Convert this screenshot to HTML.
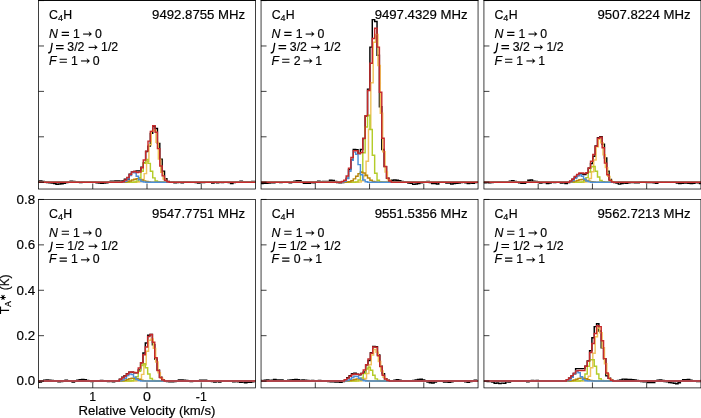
<!DOCTYPE html><html><head><meta charset="utf-8"><style>html,body{margin:0;padding:0;background:#fff;}svg{display:block;will-change:transform;}</style></head><body><svg width="701" height="418" viewBox="0 0 701 418"><clipPath id="c0"><rect x="38.50" y="0.57" width="217.00" height="188.45"/></clipPath>
<g clip-path="url(#c0)" fill="none" stroke-linejoin="miter">
<path d="M34.75,180.03 L37.10,180.03 L37.10,181.37 L39.46,181.37 L39.46,181.00 L41.82,181.00 L41.82,181.58 L44.18,181.58 L44.18,181.84 L46.54,181.84 L46.54,182.43 L48.90,182.43 L48.90,182.85 L51.26,182.85 L51.26,182.90 L53.62,182.90 L53.62,183.49 L55.98,183.49 L55.98,184.20 L58.34,184.20 L58.34,184.02 L60.70,184.02 L60.70,183.72 L63.06,183.72 L63.06,183.28 L65.42,183.28 L65.42,182.41 L67.78,182.41 L67.78,182.26 L70.14,182.26 L70.14,181.20 L72.50,181.20 L72.50,181.50 L74.86,181.50 L74.86,181.64 L77.22,181.64 L77.22,181.75 L79.58,181.75 L79.58,182.40 L81.94,182.40 L81.94,181.75 L84.29,181.75 L84.29,182.13 L86.65,182.13 L86.65,181.91 L89.01,181.91 L89.01,181.94 L91.37,181.94 L91.37,182.13 L93.73,182.13 L93.73,182.07 L96.09,182.07 L96.09,182.87 L98.45,182.87 L98.45,183.07 L100.81,183.07 L100.81,183.34 L103.17,183.34 L103.17,183.03 L105.53,183.03 L105.53,182.85 L107.89,182.85 L107.89,182.28 L110.25,182.28 L110.25,181.22 L112.61,181.22 L112.61,181.10 L114.97,181.10 L114.97,181.00 L117.33,181.00 L117.33,180.88 L119.69,180.88 L119.69,181.27 L122.05,181.27 L122.05,180.91 L124.41,180.91 L124.41,179.21 L126.77,179.21 L126.77,179.48 L129.13,179.48 L129.13,174.25 L131.49,174.25 L131.49,171.88 L133.84,171.88 L133.84,171.58 L136.20,171.58 L136.20,170.86 L138.56,170.86 L138.56,170.86 L140.92,170.86 L140.92,167.28 L143.28,167.28 L143.28,162.91 L145.64,162.91 L145.64,151.50 L148.00,151.50 L148.00,146.11 L150.36,146.11 L150.36,133.39 L152.72,133.39 L152.72,126.32 L155.08,126.32 L155.08,128.40 L157.44,128.40 L157.44,143.38 L159.80,143.38 L159.80,159.28 L162.16,159.28 L162.16,171.31 L164.52,171.31 L164.52,178.80 L166.88,178.80 L166.88,181.59 L169.24,181.59 L169.24,182.16 L171.60,182.16 L171.60,181.88 L173.96,181.88 L173.96,182.79 L176.32,182.79 L176.32,182.46 L178.68,182.46 L178.68,182.19 L181.03,182.19 L181.03,182.65 L183.39,182.65 L183.39,182.03 L185.75,182.03 L185.75,181.93 L188.11,181.93 L188.11,182.19 L190.47,182.19 L190.47,182.37 L192.83,182.37 L192.83,182.37 L195.19,182.37 L195.19,182.58 L197.55,182.58 L197.55,183.09 L199.91,183.09 L199.91,182.59 L202.27,182.59 L202.27,182.53 L204.63,182.53 L204.63,182.27 L206.99,182.27 L206.99,181.97 L209.35,181.97 L209.35,182.16 L211.71,182.16 L211.71,183.10 L214.07,183.10 L214.07,182.00 L216.43,182.00 L216.43,182.89 L218.79,182.89 L218.79,182.31 L221.15,182.31 L221.15,182.63 L223.51,182.63 L223.51,182.12 L225.87,182.12 L225.87,182.23 L228.23,182.23 L228.23,182.51 L230.58,182.51 L230.58,183.54 L232.94,183.54 L232.94,182.44 L235.30,182.44 L235.30,182.18 L237.66,182.18 L237.66,182.33 L240.02,182.33 L240.02,181.15 L242.38,181.15 L242.38,181.72 L244.74,181.72 L244.74,182.06 L247.10,182.06 L247.10,181.72 L249.46,181.72 L249.46,181.82 L251.82,181.82 L251.82,181.42 L254.18,181.42 L254.18,181.53 L256.54,181.53 L256.54,181.61 L258.90,181.61 L258.90,181.69 L261.26,181.69" stroke="#000000" stroke-width="1.45"/>
<path d="M35.65,182.21 L38.00,182.21 L38.00,182.21 L40.36,182.21 L40.36,182.21 L42.72,182.21 L42.72,182.21 L45.08,182.21 L45.08,182.21 L47.44,182.21 L47.44,182.21 L49.80,182.21 L49.80,182.21 L52.16,182.21 L52.16,182.21 L54.52,182.21 L54.52,182.21 L56.88,182.21 L56.88,182.21 L59.24,182.21 L59.24,182.21 L61.60,182.21 L61.60,182.21 L63.96,182.21 L63.96,182.21 L66.32,182.21 L66.32,182.21 L68.68,182.21 L68.68,182.21 L71.04,182.21 L71.04,182.21 L73.40,182.21 L73.40,182.21 L75.76,182.21 L75.76,182.21 L78.12,182.21 L78.12,182.21 L80.48,182.21 L80.48,182.21 L82.84,182.21 L82.84,182.21 L85.19,182.21 L85.19,182.21 L87.55,182.21 L87.55,182.21 L89.91,182.21 L89.91,182.21 L92.27,182.21 L92.27,182.21 L94.63,182.21 L94.63,182.21 L96.99,182.21 L96.99,182.21 L99.35,182.21 L99.35,182.21 L101.71,182.21 L101.71,182.21 L104.07,182.21 L104.07,182.21 L106.43,182.21 L106.43,182.21 L108.79,182.21 L108.79,182.21 L111.15,182.21 L111.15,182.21 L113.51,182.21 L113.51,182.21 L115.87,182.21 L115.87,182.21 L118.23,182.21 L118.23,182.21 L120.59,182.21 L120.59,182.21 L122.95,182.21 L122.95,182.21 L125.31,182.21 L125.31,182.21 L127.67,182.21 L127.67,182.21 L130.03,182.21 L130.03,182.21 L132.39,182.21 L132.39,182.21 L134.74,182.21 L134.74,182.19 L137.10,182.19 L137.10,182.10 L139.46,182.10 L139.46,181.58 L141.82,181.58 L141.82,179.52 L144.18,179.52 L144.18,173.61 L146.54,173.61 L146.54,161.51 L148.90,161.51 L148.90,144.78 L151.26,144.78 L151.26,131.32 L153.62,131.32 L153.62,130.20 L155.98,130.20 L155.98,142.26 L158.34,142.26 L158.34,159.14 L160.70,159.14 L160.70,172.20 L163.06,172.20 L163.06,178.94 L165.42,178.94 L165.42,181.41 L167.78,181.41 L167.78,182.06 L170.14,182.06 L170.14,182.19 L172.50,182.19 L172.50,182.21 L174.86,182.21 L174.86,182.21 L177.22,182.21 L177.22,182.21 L179.58,182.21 L179.58,182.21 L181.93,182.21 L181.93,182.21 L184.29,182.21 L184.29,182.21 L186.65,182.21 L186.65,182.21 L189.01,182.21 L189.01,182.21 L191.37,182.21 L191.37,182.21 L193.73,182.21 L193.73,182.21 L196.09,182.21 L196.09,182.21 L198.45,182.21 L198.45,182.21 L200.81,182.21 L200.81,182.21 L203.17,182.21 L203.17,182.21 L205.53,182.21 L205.53,182.21 L207.89,182.21 L207.89,182.21 L210.25,182.21 L210.25,182.21 L212.61,182.21 L212.61,182.21 L214.97,182.21 L214.97,182.21 L217.33,182.21 L217.33,182.21 L219.69,182.21 L219.69,182.21 L222.05,182.21 L222.05,182.21 L224.41,182.21 L224.41,182.21 L226.77,182.21 L226.77,182.21 L229.13,182.21 L229.13,182.21 L231.48,182.21 L231.48,182.21 L233.84,182.21 L233.84,182.21 L236.20,182.21 L236.20,182.21 L238.56,182.21 L238.56,182.21 L240.92,182.21 L240.92,182.21 L243.28,182.21 L243.28,182.21 L245.64,182.21 L245.64,182.21 L248.00,182.21 L248.00,182.21 L250.36,182.21 L250.36,182.21 L252.72,182.21 L252.72,182.21 L255.08,182.21 L255.08,182.21 L257.44,182.21 L257.44,182.21 L259.80,182.21 L259.80,182.21 L262.16,182.21" stroke="#efc35c" stroke-width="1.45"/>
<path d="M34.75,182.21 L37.10,182.21 L37.10,182.21 L39.46,182.21 L39.46,182.21 L41.82,182.21 L41.82,182.21 L44.18,182.21 L44.18,182.21 L46.54,182.21 L46.54,182.21 L48.90,182.21 L48.90,182.21 L51.26,182.21 L51.26,182.21 L53.62,182.21 L53.62,182.21 L55.98,182.21 L55.98,182.21 L58.34,182.21 L58.34,182.21 L60.70,182.21 L60.70,182.21 L63.06,182.21 L63.06,182.21 L65.42,182.21 L65.42,182.21 L67.78,182.21 L67.78,182.21 L70.14,182.21 L70.14,182.21 L72.50,182.21 L72.50,182.21 L74.86,182.21 L74.86,182.21 L77.22,182.21 L77.22,182.21 L79.58,182.21 L79.58,182.21 L81.94,182.21 L81.94,182.21 L84.29,182.21 L84.29,182.21 L86.65,182.21 L86.65,182.21 L89.01,182.21 L89.01,182.21 L91.37,182.21 L91.37,182.21 L93.73,182.21 L93.73,182.21 L96.09,182.21 L96.09,182.21 L98.45,182.21 L98.45,182.21 L100.81,182.21 L100.81,182.21 L103.17,182.21 L103.17,182.21 L105.53,182.21 L105.53,182.21 L107.89,182.21 L107.89,182.21 L110.25,182.21 L110.25,182.21 L112.61,182.21 L112.61,182.21 L114.97,182.21 L114.97,182.21 L117.33,182.21 L117.33,182.21 L119.69,182.21 L119.69,182.21 L122.05,182.21 L122.05,182.21 L124.41,182.21 L124.41,182.21 L126.77,182.21 L126.77,182.21 L129.13,182.21 L129.13,182.21 L131.49,182.21 L131.49,182.18 L133.84,182.18 L133.84,181.97 L136.20,181.97 L136.20,180.96 L138.56,180.96 L138.56,177.76 L140.92,177.76 L140.92,171.19 L143.28,171.19 L143.28,163.22 L145.64,163.22 L145.64,159.50 L148.00,159.50 L148.00,163.35 L150.36,163.35 L150.36,171.34 L152.72,171.34 L152.72,177.85 L155.08,177.85 L155.08,181.00 L157.44,181.00 L157.44,181.97 L159.80,181.97 L159.80,182.18 L162.16,182.18 L162.16,182.21 L164.52,182.21 L164.52,182.21 L166.88,182.21 L166.88,182.21 L169.24,182.21 L169.24,182.21 L171.60,182.21 L171.60,182.21 L173.96,182.21 L173.96,182.21 L176.32,182.21 L176.32,182.21 L178.68,182.21 L178.68,182.21 L181.03,182.21 L181.03,182.21 L183.39,182.21 L183.39,182.21 L185.75,182.21 L185.75,182.21 L188.11,182.21 L188.11,182.21 L190.47,182.21 L190.47,182.21 L192.83,182.21 L192.83,182.21 L195.19,182.21 L195.19,182.21 L197.55,182.21 L197.55,182.21 L199.91,182.21 L199.91,182.21 L202.27,182.21 L202.27,182.21 L204.63,182.21 L204.63,182.21 L206.99,182.21 L206.99,182.21 L209.35,182.21 L209.35,182.21 L211.71,182.21 L211.71,182.21 L214.07,182.21 L214.07,182.21 L216.43,182.21 L216.43,182.21 L218.79,182.21 L218.79,182.21 L221.15,182.21 L221.15,182.21 L223.51,182.21 L223.51,182.21 L225.87,182.21 L225.87,182.21 L228.23,182.21 L228.23,182.21 L230.58,182.21 L230.58,182.21 L232.94,182.21 L232.94,182.21 L235.30,182.21 L235.30,182.21 L237.66,182.21 L237.66,182.21 L240.02,182.21 L240.02,182.21 L242.38,182.21 L242.38,182.21 L244.74,182.21 L244.74,182.21 L247.10,182.21 L247.10,182.21 L249.46,182.21 L249.46,182.21 L251.82,182.21 L251.82,182.21 L254.18,182.21 L254.18,182.21 L256.54,182.21 L256.54,182.21 L258.90,182.21 L258.90,182.21 L261.26,182.21" stroke="#b4cc2a" stroke-width="1.45"/>
<path d="M34.75,182.21 L37.10,182.21 L37.10,182.21 L39.46,182.21 L39.46,182.21 L41.82,182.21 L41.82,182.21 L44.18,182.21 L44.18,182.21 L46.54,182.21 L46.54,182.21 L48.90,182.21 L48.90,182.21 L51.26,182.21 L51.26,182.21 L53.62,182.21 L53.62,182.21 L55.98,182.21 L55.98,182.21 L58.34,182.21 L58.34,182.21 L60.70,182.21 L60.70,182.21 L63.06,182.21 L63.06,182.21 L65.42,182.21 L65.42,182.21 L67.78,182.21 L67.78,182.21 L70.14,182.21 L70.14,182.21 L72.50,182.21 L72.50,182.21 L74.86,182.21 L74.86,182.21 L77.22,182.21 L77.22,182.21 L79.58,182.21 L79.58,182.21 L81.94,182.21 L81.94,182.21 L84.29,182.21 L84.29,182.21 L86.65,182.21 L86.65,182.21 L89.01,182.21 L89.01,182.21 L91.37,182.21 L91.37,182.21 L93.73,182.21 L93.73,182.21 L96.09,182.21 L96.09,182.21 L98.45,182.21 L98.45,182.21 L100.81,182.21 L100.81,182.21 L103.17,182.21 L103.17,182.21 L105.53,182.21 L105.53,182.21 L107.89,182.21 L107.89,182.21 L110.25,182.21 L110.25,182.21 L112.61,182.21 L112.61,182.21 L114.97,182.21 L114.97,182.21 L117.33,182.21 L117.33,182.21 L119.69,182.21 L119.69,182.19 L122.05,182.19 L122.05,182.14 L124.41,182.14 L124.41,181.99 L126.77,181.99 L126.77,181.62 L129.13,181.62 L129.13,180.95 L131.49,180.95 L131.49,180.04 L133.84,180.04 L133.84,179.18 L136.20,179.18 L136.20,178.80 L138.56,178.80 L138.56,179.12 L140.92,179.12 L140.92,179.94 L143.28,179.94 L143.28,180.87 L145.64,180.87 L145.64,181.57 L148.00,181.57 L148.00,181.96 L150.36,181.96 L150.36,182.13 L152.72,182.13 L152.72,182.19 L155.08,182.19 L155.08,182.20 L157.44,182.20 L157.44,182.21 L159.80,182.21 L159.80,182.21 L162.16,182.21 L162.16,182.21 L164.52,182.21 L164.52,182.21 L166.88,182.21 L166.88,182.21 L169.24,182.21 L169.24,182.21 L171.60,182.21 L171.60,182.21 L173.96,182.21 L173.96,182.21 L176.32,182.21 L176.32,182.21 L178.68,182.21 L178.68,182.21 L181.03,182.21 L181.03,182.21 L183.39,182.21 L183.39,182.21 L185.75,182.21 L185.75,182.21 L188.11,182.21 L188.11,182.21 L190.47,182.21 L190.47,182.21 L192.83,182.21 L192.83,182.21 L195.19,182.21 L195.19,182.21 L197.55,182.21 L197.55,182.21 L199.91,182.21 L199.91,182.21 L202.27,182.21 L202.27,182.21 L204.63,182.21 L204.63,182.21 L206.99,182.21 L206.99,182.21 L209.35,182.21 L209.35,182.21 L211.71,182.21 L211.71,182.21 L214.07,182.21 L214.07,182.21 L216.43,182.21 L216.43,182.21 L218.79,182.21 L218.79,182.21 L221.15,182.21 L221.15,182.21 L223.51,182.21 L223.51,182.21 L225.87,182.21 L225.87,182.21 L228.23,182.21 L228.23,182.21 L230.58,182.21 L230.58,182.21 L232.94,182.21 L232.94,182.21 L235.30,182.21 L235.30,182.21 L237.66,182.21 L237.66,182.21 L240.02,182.21 L240.02,182.21 L242.38,182.21 L242.38,182.21 L244.74,182.21 L244.74,182.21 L247.10,182.21 L247.10,182.21 L249.46,182.21 L249.46,182.21 L251.82,182.21 L251.82,182.21 L254.18,182.21 L254.18,182.21 L256.54,182.21 L256.54,182.21 L258.90,182.21 L258.90,182.21 L261.26,182.21" stroke="#b8860b" stroke-width="1.45"/>
<path d="M34.75,182.21 L37.10,182.21 L37.10,182.21 L39.46,182.21 L39.46,182.21 L41.82,182.21 L41.82,182.21 L44.18,182.21 L44.18,182.21 L46.54,182.21 L46.54,182.21 L48.90,182.21 L48.90,182.21 L51.26,182.21 L51.26,182.21 L53.62,182.21 L53.62,182.21 L55.98,182.21 L55.98,182.21 L58.34,182.21 L58.34,182.21 L60.70,182.21 L60.70,182.21 L63.06,182.21 L63.06,182.21 L65.42,182.21 L65.42,182.21 L67.78,182.21 L67.78,182.21 L70.14,182.21 L70.14,182.21 L72.50,182.21 L72.50,182.21 L74.86,182.21 L74.86,182.21 L77.22,182.21 L77.22,182.21 L79.58,182.21 L79.58,182.21 L81.94,182.21 L81.94,182.21 L84.29,182.21 L84.29,182.21 L86.65,182.21 L86.65,182.21 L89.01,182.21 L89.01,182.21 L91.37,182.21 L91.37,182.21 L93.73,182.21 L93.73,182.21 L96.09,182.21 L96.09,182.21 L98.45,182.21 L98.45,182.21 L100.81,182.21 L100.81,182.21 L103.17,182.21 L103.17,182.21 L105.53,182.21 L105.53,182.21 L107.89,182.21 L107.89,182.21 L110.25,182.21 L110.25,182.21 L112.61,182.21 L112.61,182.21 L114.97,182.21 L114.97,182.21 L117.33,182.21 L117.33,182.21 L119.69,182.21 L119.69,182.19 L122.05,182.19 L122.05,182.03 L124.41,182.03 L124.41,181.29 L126.77,181.29 L126.77,179.13 L129.13,179.13 L129.13,175.41 L131.49,175.41 L131.49,172.32 L133.84,172.32 L133.84,172.74 L136.20,172.74 L136.20,176.24 L138.56,176.24 L138.56,179.73 L140.92,179.73 L140.92,181.53 L143.28,181.53 L143.28,182.09 L145.64,182.09 L145.64,182.19 L148.00,182.19 L148.00,182.21 L150.36,182.21 L150.36,182.21 L152.72,182.21 L152.72,182.21 L155.08,182.21 L155.08,182.21 L157.44,182.21 L157.44,182.21 L159.80,182.21 L159.80,182.21 L162.16,182.21 L162.16,182.21 L164.52,182.21 L164.52,182.21 L166.88,182.21 L166.88,182.21 L169.24,182.21 L169.24,182.21 L171.60,182.21 L171.60,182.21 L173.96,182.21 L173.96,182.21 L176.32,182.21 L176.32,182.21 L178.68,182.21 L178.68,182.21 L181.03,182.21 L181.03,182.21 L183.39,182.21 L183.39,182.21 L185.75,182.21 L185.75,182.21 L188.11,182.21 L188.11,182.21 L190.47,182.21 L190.47,182.21 L192.83,182.21 L192.83,182.21 L195.19,182.21 L195.19,182.21 L197.55,182.21 L197.55,182.21 L199.91,182.21 L199.91,182.21 L202.27,182.21 L202.27,182.21 L204.63,182.21 L204.63,182.21 L206.99,182.21 L206.99,182.21 L209.35,182.21 L209.35,182.21 L211.71,182.21 L211.71,182.21 L214.07,182.21 L214.07,182.21 L216.43,182.21 L216.43,182.21 L218.79,182.21 L218.79,182.21 L221.15,182.21 L221.15,182.21 L223.51,182.21 L223.51,182.21 L225.87,182.21 L225.87,182.21 L228.23,182.21 L228.23,182.21 L230.58,182.21 L230.58,182.21 L232.94,182.21 L232.94,182.21 L235.30,182.21 L235.30,182.21 L237.66,182.21 L237.66,182.21 L240.02,182.21 L240.02,182.21 L242.38,182.21 L242.38,182.21 L244.74,182.21 L244.74,182.21 L247.10,182.21 L247.10,182.21 L249.46,182.21 L249.46,182.21 L251.82,182.21 L251.82,182.21 L254.18,182.21 L254.18,182.21 L256.54,182.21 L256.54,182.21 L258.90,182.21 L258.90,182.21 L261.26,182.21" stroke="#4b8fd8" stroke-width="1.45"/>
<path d="M34.75,182.21 L37.10,182.21 L37.10,182.21 L39.46,182.21 L39.46,182.21 L41.82,182.21 L41.82,182.21 L44.18,182.21 L44.18,182.21 L46.54,182.21 L46.54,182.21 L48.90,182.21 L48.90,182.21 L51.26,182.21 L51.26,182.21 L53.62,182.21 L53.62,182.21 L55.98,182.21 L55.98,182.21 L58.34,182.21 L58.34,182.21 L60.70,182.21 L60.70,182.21 L63.06,182.21 L63.06,182.21 L65.42,182.21 L65.42,182.21 L67.78,182.21 L67.78,182.21 L70.14,182.21 L70.14,182.21 L72.50,182.21 L72.50,182.21 L74.86,182.21 L74.86,182.21 L77.22,182.21 L77.22,182.21 L79.58,182.21 L79.58,182.21 L81.94,182.21 L81.94,182.21 L84.29,182.21 L84.29,182.21 L86.65,182.21 L86.65,182.21 L89.01,182.21 L89.01,182.21 L91.37,182.21 L91.37,182.21 L93.73,182.21 L93.73,182.21 L96.09,182.21 L96.09,182.21 L98.45,182.21 L98.45,182.21 L100.81,182.21 L100.81,182.21 L103.17,182.21 L103.17,182.21 L105.53,182.21 L105.53,182.21 L107.89,182.21 L107.89,182.21 L110.25,182.21 L110.25,182.21 L112.61,182.21 L112.61,182.21 L114.97,182.21 L114.97,182.21 L117.33,182.21 L117.33,182.21 L119.69,182.21 L119.69,182.21 L122.05,182.21 L122.05,181.75 L124.41,181.75 L124.41,179.94 L126.77,179.94 L126.77,177.44 L129.13,177.44 L129.13,174.49 L131.49,174.49 L131.49,171.99 L133.84,171.99 L133.84,171.54 L136.20,171.54 L136.20,172.45 L138.56,172.45 L138.56,171.99 L140.92,171.99 L140.92,167.68 L143.28,167.68 L143.28,159.96 L145.64,159.96 L145.64,151.10 L148.00,151.10 L148.00,141.11 L150.36,141.11 L150.36,131.35 L152.72,131.35 L152.72,125.67 L155.08,125.67 L155.08,132.26 L157.44,132.26 L157.44,148.61 L159.80,148.61 L159.80,166.09 L162.16,166.09 L162.16,175.85 L164.52,175.85 L164.52,180.17 L166.88,180.17 L166.88,181.75 L169.24,181.75 L169.24,182.21 L171.60,182.21 L171.60,182.21 L173.96,182.21 L173.96,182.21 L176.32,182.21 L176.32,182.21 L178.68,182.21 L178.68,182.21 L181.03,182.21 L181.03,182.21 L183.39,182.21 L183.39,182.21 L185.75,182.21 L185.75,182.21 L188.11,182.21 L188.11,182.21 L190.47,182.21 L190.47,182.21 L192.83,182.21 L192.83,182.21 L195.19,182.21 L195.19,182.21 L197.55,182.21 L197.55,182.21 L199.91,182.21 L199.91,182.21 L202.27,182.21 L202.27,182.21 L204.63,182.21 L204.63,182.21 L206.99,182.21 L206.99,182.21 L209.35,182.21 L209.35,182.21 L211.71,182.21 L211.71,182.21 L214.07,182.21 L214.07,182.21 L216.43,182.21 L216.43,182.21 L218.79,182.21 L218.79,182.21 L221.15,182.21 L221.15,182.21 L223.51,182.21 L223.51,182.21 L225.87,182.21 L225.87,182.21 L228.23,182.21 L228.23,182.21 L230.58,182.21 L230.58,182.21 L232.94,182.21 L232.94,182.21 L235.30,182.21 L235.30,182.21 L237.66,182.21 L237.66,182.21 L240.02,182.21 L240.02,182.21 L242.38,182.21 L242.38,182.21 L244.74,182.21 L244.74,182.21 L247.10,182.21 L247.10,182.21 L249.46,182.21 L249.46,182.21 L251.82,182.21 L251.82,182.21 L254.18,182.21 L254.18,182.21 L256.54,182.21 L256.54,182.21 L258.90,182.21 L258.90,182.21 L261.26,182.21" stroke="#c62a2c" stroke-width="1.45"/>
</g>
<rect x="38.50" y="0.57" width="217.00" height="188.45" fill="none" stroke="#000" stroke-width="0.75"/>
<rect x="38.15" y="0" width="217.70" height="1" fill="#080808"/>
<path d="M92.75,189.02 V183.52 M147.00,189.02 V183.52 M201.25,189.02 V183.52 M38.50,182.21 H44.00 M38.50,136.80 H44.00 M38.50,91.39 H44.00 M38.50,45.98 H44.00 M38.50,0.57 H44.00" stroke="#000" stroke-width="0.75" fill="none"/>
<g font-family="Liberation Sans, sans-serif" font-size="12.3" fill="#000" stroke="#000" stroke-width="0.18"><text x="49.10" y="18.77">C</text>
<text x="57.90" y="20.67" font-size="9">4</text>
<text x="63.20" y="18.77">H</text>
<text x="152.10" y="19.07" textLength="93" lengthAdjust="spacingAndGlyphs">9492.8755 MHz</text>
<text x="49.00" y="37.67" font-style="italic">N</text>
<path d="M61.70,32.37 h7.30 M61.70,35.37 h7.30" stroke="#000" stroke-width="1.1" fill="none"/>
<text x="73.10" y="37.67">1</text>
<path d="M83.10,34.07 H90.60" stroke="#000" stroke-width="1.1" fill="none"/><path d="M91.80,34.07 L88.80,31.57 L89.80,34.07 L88.80,36.57 Z" fill="#000"/>
<text x="94.90" y="37.67">0</text>
<path d="M52.25,42.87 L50.95,50.57 Q50.50,52.87 48.10,52.97" stroke="#000" stroke-width="1.3" fill="none"/>
<path d="M56.00,45.67 h7.60 M56.00,48.67 h7.60" stroke="#000" stroke-width="1.1" fill="none"/>
<text x="67.30" y="50.97">3/2</text>
<path d="M88.60,47.37 H96.30" stroke="#000" stroke-width="1.1" fill="none"/><path d="M97.50,47.37 L94.50,44.87 L95.50,47.37 L94.50,49.87 Z" fill="#000"/>
<text x="101.10" y="50.97">1/2</text>
<text x="49.00" y="64.57" font-style="italic">F</text>
<path d="M59.60,59.27 h7.30 M59.60,62.27 h7.30" stroke="#000" stroke-width="1.1" fill="none"/>
<text x="70.90" y="64.57">1</text>
<path d="M81.00,60.97 H88.60" stroke="#000" stroke-width="1.1" fill="none"/><path d="M89.80,60.97 L86.80,58.47 L87.80,60.97 L86.80,63.47 Z" fill="#000"/>
<text x="92.80" y="64.57">0</text></g>
<clipPath id="c1"><rect x="261.05" y="0.57" width="217.00" height="188.45"/></clipPath>
<g clip-path="url(#c1)" fill="none" stroke-linejoin="miter">
<path d="M255.90,181.79 L258.27,181.79 L258.27,183.32 L260.65,183.32 L260.65,183.56 L263.02,183.56 L263.02,183.39 L265.40,183.39 L265.40,183.30 L267.77,183.30 L267.77,182.99 L270.15,182.99 L270.15,182.71 L272.52,182.71 L272.52,182.67 L274.90,182.67 L274.90,182.10 L277.27,182.10 L277.27,182.32 L279.65,182.32 L279.65,182.64 L282.03,182.64 L282.03,182.10 L284.40,182.10 L284.40,181.66 L286.78,181.66 L286.78,182.32 L289.15,182.32 L289.15,182.66 L291.53,182.66 L291.53,181.99 L293.90,181.99 L293.90,181.31 L296.28,181.31 L296.28,180.71 L298.65,180.71 L298.65,180.82 L301.03,180.82 L301.03,182.26 L303.40,182.26 L303.40,183.25 L305.78,183.25 L305.78,183.37 L308.15,183.37 L308.15,183.31 L310.53,183.31 L310.53,182.55 L312.90,182.55 L312.90,182.65 L315.28,182.65 L315.28,181.98 L317.66,181.98 L317.66,181.16 L320.03,181.16 L320.03,181.66 L322.41,181.66 L322.41,181.40 L324.78,181.40 L324.78,181.51 L327.16,181.51 L327.16,181.36 L329.53,181.36 L329.53,180.23 L331.91,180.23 L331.91,180.55 L334.28,180.55 L334.28,181.45 L336.66,181.45 L336.66,182.64 L339.03,182.64 L339.03,182.81 L341.41,182.81 L341.41,182.43 L343.78,182.43 L343.78,180.64 L346.16,180.64 L346.16,178.35 L348.53,178.35 L348.53,169.49 L350.91,169.49 L350.91,159.96 L353.29,159.96 L353.29,149.53 L355.66,149.53 L355.66,149.82 L358.04,149.82 L358.04,153.51 L360.41,153.51 L360.41,149.51 L362.79,149.51 L362.79,138.51 L365.16,138.51 L365.16,115.98 L367.54,115.98 L367.54,89.12 L369.91,89.12 L369.91,47.11 L372.29,47.11 L372.29,19.64 L374.66,19.64 L374.66,21.46 L377.04,21.46 L377.04,55.29 L379.41,55.29 L379.41,106.83 L381.79,106.83 L381.79,149.51 L384.16,149.51 L384.16,166.60 L386.54,166.60 L386.54,178.28 L388.92,178.28 L388.92,181.36 L391.29,181.36 L391.29,180.17 L393.67,180.17 L393.67,179.94 L396.04,179.94 L396.04,180.17 L398.42,180.17 L398.42,180.62 L400.79,180.62 L400.79,181.53 L403.17,181.53 L403.17,181.97 L405.54,181.97 L405.54,182.17 L407.92,182.17 L407.92,183.12 L410.29,183.12 L410.29,183.30 L412.67,183.30 L412.67,184.38 L415.04,184.38 L415.04,183.91 L417.42,183.91 L417.42,183.42 L419.79,183.42 L419.79,182.78 L422.17,182.78 L422.17,181.90 L424.55,181.90 L424.55,181.88 L426.92,181.88 L426.92,181.48 L429.30,181.48 L429.30,182.64 L431.67,182.64 L431.67,183.40 L434.05,183.40 L434.05,183.47 L436.42,183.47 L436.42,184.02 L438.80,184.02 L438.80,182.31 L441.17,182.31 L441.17,181.93 L443.55,181.93 L443.55,182.20 L445.92,182.20 L445.92,182.91 L448.30,182.91 L448.30,182.93 L450.67,182.93 L450.67,184.01 L453.05,184.01 L453.05,183.45 L455.42,183.45 L455.42,183.33 L457.80,183.33 L457.80,183.10 L460.17,183.10 L460.17,182.55 L462.55,182.55 L462.55,182.17 L464.93,182.17 L464.93,182.75 L467.30,182.75 L467.30,183.41 L469.68,183.41 L469.68,183.12 L472.05,183.12 L472.05,183.20 L474.43,183.20 L474.43,182.53 L476.80,182.53 L476.80,181.85 L479.18,181.85 L479.18,181.37 L481.55,181.37 L481.55,181.16 L483.93,181.16" stroke="#000000" stroke-width="1.45"/>
<path d="M256.80,182.21 L259.17,182.21 L259.17,182.21 L261.55,182.21 L261.55,182.21 L263.92,182.21 L263.92,182.21 L266.30,182.21 L266.30,182.21 L268.67,182.21 L268.67,182.21 L271.05,182.21 L271.05,182.21 L273.42,182.21 L273.42,182.21 L275.80,182.21 L275.80,182.21 L278.17,182.21 L278.17,182.21 L280.55,182.21 L280.55,182.21 L282.93,182.21 L282.93,182.21 L285.30,182.21 L285.30,182.21 L287.68,182.21 L287.68,182.21 L290.05,182.21 L290.05,182.21 L292.43,182.21 L292.43,182.21 L294.80,182.21 L294.80,182.21 L297.18,182.21 L297.18,182.21 L299.55,182.21 L299.55,182.21 L301.93,182.21 L301.93,182.21 L304.30,182.21 L304.30,182.21 L306.68,182.21 L306.68,182.21 L309.05,182.21 L309.05,182.21 L311.43,182.21 L311.43,182.21 L313.80,182.21 L313.80,182.21 L316.18,182.21 L316.18,182.21 L318.56,182.21 L318.56,182.21 L320.93,182.21 L320.93,182.21 L323.31,182.21 L323.31,182.21 L325.68,182.21 L325.68,182.21 L328.06,182.21 L328.06,182.21 L330.43,182.21 L330.43,182.21 L332.81,182.21 L332.81,182.21 L335.18,182.21 L335.18,182.21 L337.56,182.21 L337.56,182.21 L339.93,182.21 L339.93,182.21 L342.31,182.21 L342.31,182.21 L344.68,182.21 L344.68,182.21 L347.06,182.21 L347.06,182.21 L349.43,182.21 L349.43,182.21 L351.81,182.21 L351.81,182.21 L354.19,182.21 L354.19,182.21 L356.56,182.21 L356.56,182.18 L358.94,182.18 L358.94,181.97 L361.31,181.97 L361.31,180.81 L363.69,180.81 L363.69,175.93 L366.06,175.93 L366.06,161.16 L368.44,161.16 L368.44,129.34 L370.81,129.34 L370.81,82.77 L373.19,82.77 L373.19,42.16 L375.56,42.16 L375.56,34.51 L377.94,34.51 L377.94,65.56 L380.31,65.56 L380.31,113.23 L382.69,113.23 L382.69,151.66 L385.06,151.66 L385.06,172.08 L387.44,172.08 L387.44,179.69 L389.82,179.69 L389.82,181.74 L392.19,181.74 L392.19,182.14 L394.57,182.14 L394.57,182.20 L396.94,182.20 L396.94,182.21 L399.32,182.21 L399.32,182.21 L401.69,182.21 L401.69,182.21 L404.07,182.21 L404.07,182.21 L406.44,182.21 L406.44,182.21 L408.82,182.21 L408.82,182.21 L411.19,182.21 L411.19,182.21 L413.57,182.21 L413.57,182.21 L415.94,182.21 L415.94,182.21 L418.32,182.21 L418.32,182.21 L420.69,182.21 L420.69,182.21 L423.07,182.21 L423.07,182.21 L425.45,182.21 L425.45,182.21 L427.82,182.21 L427.82,182.21 L430.20,182.21 L430.20,182.21 L432.57,182.21 L432.57,182.21 L434.95,182.21 L434.95,182.21 L437.32,182.21 L437.32,182.21 L439.70,182.21 L439.70,182.21 L442.07,182.21 L442.07,182.21 L444.45,182.21 L444.45,182.21 L446.82,182.21 L446.82,182.21 L449.20,182.21 L449.20,182.21 L451.57,182.21 L451.57,182.21 L453.95,182.21 L453.95,182.21 L456.32,182.21 L456.32,182.21 L458.70,182.21 L458.70,182.21 L461.07,182.21 L461.07,182.21 L463.45,182.21 L463.45,182.21 L465.83,182.21 L465.83,182.21 L468.20,182.21 L468.20,182.21 L470.58,182.21 L470.58,182.21 L472.95,182.21 L472.95,182.21 L475.33,182.21 L475.33,182.21 L477.70,182.21 L477.70,182.21 L480.08,182.21 L480.08,182.21 L482.45,182.21 L482.45,182.21 L484.83,182.21" stroke="#efc35c" stroke-width="1.45"/>
<path d="M255.90,182.21 L258.27,182.21 L258.27,182.21 L260.65,182.21 L260.65,182.21 L263.02,182.21 L263.02,182.21 L265.40,182.21 L265.40,182.21 L267.77,182.21 L267.77,182.21 L270.15,182.21 L270.15,182.21 L272.52,182.21 L272.52,182.21 L274.90,182.21 L274.90,182.21 L277.27,182.21 L277.27,182.21 L279.65,182.21 L279.65,182.21 L282.03,182.21 L282.03,182.21 L284.40,182.21 L284.40,182.21 L286.78,182.21 L286.78,182.21 L289.15,182.21 L289.15,182.21 L291.53,182.21 L291.53,182.21 L293.90,182.21 L293.90,182.21 L296.28,182.21 L296.28,182.21 L298.65,182.21 L298.65,182.21 L301.03,182.21 L301.03,182.21 L303.40,182.21 L303.40,182.21 L305.78,182.21 L305.78,182.21 L308.15,182.21 L308.15,182.21 L310.53,182.21 L310.53,182.21 L312.90,182.21 L312.90,182.21 L315.28,182.21 L315.28,182.21 L317.66,182.21 L317.66,182.21 L320.03,182.21 L320.03,182.21 L322.41,182.21 L322.41,182.21 L324.78,182.21 L324.78,182.21 L327.16,182.21 L327.16,182.21 L329.53,182.21 L329.53,182.21 L331.91,182.21 L331.91,182.21 L334.28,182.21 L334.28,182.21 L336.66,182.21 L336.66,182.21 L339.03,182.21 L339.03,182.21 L341.41,182.21 L341.41,182.21 L343.78,182.21 L343.78,182.21 L346.16,182.21 L346.16,182.21 L348.53,182.21 L348.53,182.21 L350.91,182.21 L350.91,182.21 L353.29,182.21 L353.29,182.18 L355.66,182.18 L355.66,181.87 L358.04,181.87 L358.04,179.91 L360.41,179.91 L360.41,172.00 L362.79,172.00 L362.79,152.74 L365.16,152.74 L365.16,127.06 L367.54,127.06 L367.54,115.27 L369.91,115.27 L369.91,129.51 L372.29,129.51 L372.29,155.31 L374.66,155.31 L374.66,173.30 L377.04,173.30 L377.04,180.30 L379.41,180.30 L379.41,181.94 L381.79,181.94 L381.79,182.18 L384.16,182.18 L384.16,182.21 L386.54,182.21 L386.54,182.21 L388.92,182.21 L388.92,182.21 L391.29,182.21 L391.29,182.21 L393.67,182.21 L393.67,182.21 L396.04,182.21 L396.04,182.21 L398.42,182.21 L398.42,182.21 L400.79,182.21 L400.79,182.21 L403.17,182.21 L403.17,182.21 L405.54,182.21 L405.54,182.21 L407.92,182.21 L407.92,182.21 L410.29,182.21 L410.29,182.21 L412.67,182.21 L412.67,182.21 L415.04,182.21 L415.04,182.21 L417.42,182.21 L417.42,182.21 L419.79,182.21 L419.79,182.21 L422.17,182.21 L422.17,182.21 L424.55,182.21 L424.55,182.21 L426.92,182.21 L426.92,182.21 L429.30,182.21 L429.30,182.21 L431.67,182.21 L431.67,182.21 L434.05,182.21 L434.05,182.21 L436.42,182.21 L436.42,182.21 L438.80,182.21 L438.80,182.21 L441.17,182.21 L441.17,182.21 L443.55,182.21 L443.55,182.21 L445.92,182.21 L445.92,182.21 L448.30,182.21 L448.30,182.21 L450.67,182.21 L450.67,182.21 L453.05,182.21 L453.05,182.21 L455.42,182.21 L455.42,182.21 L457.80,182.21 L457.80,182.21 L460.17,182.21 L460.17,182.21 L462.55,182.21 L462.55,182.21 L464.93,182.21 L464.93,182.21 L467.30,182.21 L467.30,182.21 L469.68,182.21 L469.68,182.21 L472.05,182.21 L472.05,182.21 L474.43,182.21 L474.43,182.21 L476.80,182.21 L476.80,182.21 L479.18,182.21 L479.18,182.21 L481.55,182.21 L481.55,182.21 L483.93,182.21" stroke="#b4cc2a" stroke-width="1.45"/>
<path d="M255.90,182.21 L258.27,182.21 L258.27,182.21 L260.65,182.21 L260.65,182.21 L263.02,182.21 L263.02,182.21 L265.40,182.21 L265.40,182.21 L267.77,182.21 L267.77,182.21 L270.15,182.21 L270.15,182.21 L272.52,182.21 L272.52,182.21 L274.90,182.21 L274.90,182.21 L277.27,182.21 L277.27,182.21 L279.65,182.21 L279.65,182.21 L282.03,182.21 L282.03,182.21 L284.40,182.21 L284.40,182.21 L286.78,182.21 L286.78,182.21 L289.15,182.21 L289.15,182.21 L291.53,182.21 L291.53,182.21 L293.90,182.21 L293.90,182.21 L296.28,182.21 L296.28,182.21 L298.65,182.21 L298.65,182.21 L301.03,182.21 L301.03,182.21 L303.40,182.21 L303.40,182.21 L305.78,182.21 L305.78,182.21 L308.15,182.21 L308.15,182.21 L310.53,182.21 L310.53,182.21 L312.90,182.21 L312.90,182.21 L315.28,182.21 L315.28,182.21 L317.66,182.21 L317.66,182.21 L320.03,182.21 L320.03,182.21 L322.41,182.21 L322.41,182.21 L324.78,182.21 L324.78,182.21 L327.16,182.21 L327.16,182.21 L329.53,182.21 L329.53,182.21 L331.91,182.21 L331.91,182.21 L334.28,182.21 L334.28,182.21 L336.66,182.21 L336.66,182.21 L339.03,182.21 L339.03,182.21 L341.41,182.21 L341.41,182.20 L343.78,182.20 L343.78,182.17 L346.16,182.17 L346.16,182.05 L348.53,182.05 L348.53,181.66 L350.91,181.66 L350.91,180.70 L353.29,180.70 L353.29,178.85 L355.66,178.85 L355.66,176.22 L358.04,176.22 L358.04,173.60 L360.41,173.60 L360.41,172.25 L362.79,172.25 L362.79,172.94 L365.16,172.94 L365.16,175.27 L367.54,175.27 L367.54,178.03 L369.91,178.03 L369.91,180.18 L372.29,180.18 L372.29,181.42 L374.66,181.42 L374.66,181.96 L377.04,181.96 L377.04,182.15 L379.41,182.15 L379.41,182.20 L381.79,182.20 L381.79,182.21 L384.16,182.21 L384.16,182.21 L386.54,182.21 L386.54,182.21 L388.92,182.21 L388.92,182.21 L391.29,182.21 L391.29,182.21 L393.67,182.21 L393.67,182.21 L396.04,182.21 L396.04,182.21 L398.42,182.21 L398.42,182.21 L400.79,182.21 L400.79,182.21 L403.17,182.21 L403.17,182.21 L405.54,182.21 L405.54,182.21 L407.92,182.21 L407.92,182.21 L410.29,182.21 L410.29,182.21 L412.67,182.21 L412.67,182.21 L415.04,182.21 L415.04,182.21 L417.42,182.21 L417.42,182.21 L419.79,182.21 L419.79,182.21 L422.17,182.21 L422.17,182.21 L424.55,182.21 L424.55,182.21 L426.92,182.21 L426.92,182.21 L429.30,182.21 L429.30,182.21 L431.67,182.21 L431.67,182.21 L434.05,182.21 L434.05,182.21 L436.42,182.21 L436.42,182.21 L438.80,182.21 L438.80,182.21 L441.17,182.21 L441.17,182.21 L443.55,182.21 L443.55,182.21 L445.92,182.21 L445.92,182.21 L448.30,182.21 L448.30,182.21 L450.67,182.21 L450.67,182.21 L453.05,182.21 L453.05,182.21 L455.42,182.21 L455.42,182.21 L457.80,182.21 L457.80,182.21 L460.17,182.21 L460.17,182.21 L462.55,182.21 L462.55,182.21 L464.93,182.21 L464.93,182.21 L467.30,182.21 L467.30,182.21 L469.68,182.21 L469.68,182.21 L472.05,182.21 L472.05,182.21 L474.43,182.21 L474.43,182.21 L476.80,182.21 L476.80,182.21 L479.18,182.21 L479.18,182.21 L481.55,182.21 L481.55,182.21 L483.93,182.21" stroke="#b8860b" stroke-width="1.45"/>
<path d="M255.90,182.21 L258.27,182.21 L258.27,182.21 L260.65,182.21 L260.65,182.21 L263.02,182.21 L263.02,182.21 L265.40,182.21 L265.40,182.21 L267.77,182.21 L267.77,182.21 L270.15,182.21 L270.15,182.21 L272.52,182.21 L272.52,182.21 L274.90,182.21 L274.90,182.21 L277.27,182.21 L277.27,182.21 L279.65,182.21 L279.65,182.21 L282.03,182.21 L282.03,182.21 L284.40,182.21 L284.40,182.21 L286.78,182.21 L286.78,182.21 L289.15,182.21 L289.15,182.21 L291.53,182.21 L291.53,182.21 L293.90,182.21 L293.90,182.21 L296.28,182.21 L296.28,182.21 L298.65,182.21 L298.65,182.21 L301.03,182.21 L301.03,182.21 L303.40,182.21 L303.40,182.21 L305.78,182.21 L305.78,182.21 L308.15,182.21 L308.15,182.21 L310.53,182.21 L310.53,182.21 L312.90,182.21 L312.90,182.21 L315.28,182.21 L315.28,182.21 L317.66,182.21 L317.66,182.21 L320.03,182.21 L320.03,182.21 L322.41,182.21 L322.41,182.21 L324.78,182.21 L324.78,182.21 L327.16,182.21 L327.16,182.21 L329.53,182.21 L329.53,182.21 L331.91,182.21 L331.91,182.21 L334.28,182.21 L334.28,182.21 L336.66,182.21 L336.66,182.21 L339.03,182.21 L339.03,182.19 L341.41,182.19 L341.41,182.08 L343.78,182.08 L343.78,181.35 L346.16,181.35 L346.16,178.50 L348.53,178.50 L348.53,171.23 L350.91,171.23 L350.91,160.16 L353.29,160.16 L353.29,152.11 L355.66,152.11 L355.66,154.28 L358.04,154.28 L358.04,164.60 L360.41,164.60 L360.41,174.66 L362.79,174.66 L362.79,180.01 L365.16,180.01 L365.16,181.77 L367.54,181.77 L367.54,182.15 L369.91,182.15 L369.91,182.20 L372.29,182.20 L372.29,182.21 L374.66,182.21 L374.66,182.21 L377.04,182.21 L377.04,182.21 L379.41,182.21 L379.41,182.21 L381.79,182.21 L381.79,182.21 L384.16,182.21 L384.16,182.21 L386.54,182.21 L386.54,182.21 L388.92,182.21 L388.92,182.21 L391.29,182.21 L391.29,182.21 L393.67,182.21 L393.67,182.21 L396.04,182.21 L396.04,182.21 L398.42,182.21 L398.42,182.21 L400.79,182.21 L400.79,182.21 L403.17,182.21 L403.17,182.21 L405.54,182.21 L405.54,182.21 L407.92,182.21 L407.92,182.21 L410.29,182.21 L410.29,182.21 L412.67,182.21 L412.67,182.21 L415.04,182.21 L415.04,182.21 L417.42,182.21 L417.42,182.21 L419.79,182.21 L419.79,182.21 L422.17,182.21 L422.17,182.21 L424.55,182.21 L424.55,182.21 L426.92,182.21 L426.92,182.21 L429.30,182.21 L429.30,182.21 L431.67,182.21 L431.67,182.21 L434.05,182.21 L434.05,182.21 L436.42,182.21 L436.42,182.21 L438.80,182.21 L438.80,182.21 L441.17,182.21 L441.17,182.21 L443.55,182.21 L443.55,182.21 L445.92,182.21 L445.92,182.21 L448.30,182.21 L448.30,182.21 L450.67,182.21 L450.67,182.21 L453.05,182.21 L453.05,182.21 L455.42,182.21 L455.42,182.21 L457.80,182.21 L457.80,182.21 L460.17,182.21 L460.17,182.21 L462.55,182.21 L462.55,182.21 L464.93,182.21 L464.93,182.21 L467.30,182.21 L467.30,182.21 L469.68,182.21 L469.68,182.21 L472.05,182.21 L472.05,182.21 L474.43,182.21 L474.43,182.21 L476.80,182.21 L476.80,182.21 L479.18,182.21 L479.18,182.21 L481.55,182.21 L481.55,182.21 L483.93,182.21" stroke="#4b8fd8" stroke-width="1.45"/>
<path d="M255.90,182.21 L258.27,182.21 L258.27,182.21 L260.65,182.21 L260.65,182.21 L263.02,182.21 L263.02,182.21 L265.40,182.21 L265.40,182.21 L267.77,182.21 L267.77,182.21 L270.15,182.21 L270.15,182.21 L272.52,182.21 L272.52,182.21 L274.90,182.21 L274.90,182.21 L277.27,182.21 L277.27,182.21 L279.65,182.21 L279.65,182.21 L282.03,182.21 L282.03,182.21 L284.40,182.21 L284.40,182.21 L286.78,182.21 L286.78,182.21 L289.15,182.21 L289.15,182.21 L291.53,182.21 L291.53,182.21 L293.90,182.21 L293.90,182.21 L296.28,182.21 L296.28,182.21 L298.65,182.21 L298.65,182.21 L301.03,182.21 L301.03,182.21 L303.40,182.21 L303.40,182.21 L305.78,182.21 L305.78,182.21 L308.15,182.21 L308.15,182.21 L310.53,182.21 L310.53,182.21 L312.90,182.21 L312.90,182.21 L315.28,182.21 L315.28,182.21 L317.66,182.21 L317.66,182.21 L320.03,182.21 L320.03,182.21 L322.41,182.21 L322.41,182.21 L324.78,182.21 L324.78,182.21 L327.16,182.21 L327.16,182.21 L329.53,182.21 L329.53,182.21 L331.91,182.21 L331.91,182.21 L334.28,182.21 L334.28,182.21 L336.66,182.21 L336.66,182.21 L339.03,182.21 L339.03,182.21 L341.41,182.21 L341.41,181.53 L343.78,181.53 L343.78,180.17 L346.16,180.17 L346.16,176.08 L348.53,176.08 L348.53,168.13 L350.91,168.13 L350.91,157.46 L353.29,157.46 L353.29,150.65 L355.66,150.65 L355.66,150.65 L358.04,150.65 L358.04,153.60 L360.41,153.60 L360.41,152.47 L362.79,152.47 L362.79,138.39 L365.16,138.39 L365.16,115.68 L367.54,115.68 L367.54,90.48 L369.91,90.48 L369.91,63.24 L372.29,63.24 L372.29,38.49 L374.66,38.49 L374.66,28.27 L377.04,28.27 L377.04,47.11 L379.41,47.11 L379.41,92.30 L381.79,92.30 L381.79,138.16 L384.16,138.16 L384.16,166.54 L386.54,166.54 L386.54,178.12 L388.92,178.12 L388.92,181.07 L391.29,181.07 L391.29,182.21 L393.67,182.21 L393.67,182.21 L396.04,182.21 L396.04,182.21 L398.42,182.21 L398.42,182.21 L400.79,182.21 L400.79,182.21 L403.17,182.21 L403.17,182.21 L405.54,182.21 L405.54,182.21 L407.92,182.21 L407.92,182.21 L410.29,182.21 L410.29,182.21 L412.67,182.21 L412.67,182.21 L415.04,182.21 L415.04,182.21 L417.42,182.21 L417.42,182.21 L419.79,182.21 L419.79,182.21 L422.17,182.21 L422.17,182.21 L424.55,182.21 L424.55,182.21 L426.92,182.21 L426.92,182.21 L429.30,182.21 L429.30,182.21 L431.67,182.21 L431.67,182.21 L434.05,182.21 L434.05,182.21 L436.42,182.21 L436.42,182.21 L438.80,182.21 L438.80,182.21 L441.17,182.21 L441.17,182.21 L443.55,182.21 L443.55,182.21 L445.92,182.21 L445.92,182.21 L448.30,182.21 L448.30,182.21 L450.67,182.21 L450.67,182.21 L453.05,182.21 L453.05,182.21 L455.42,182.21 L455.42,182.21 L457.80,182.21 L457.80,182.21 L460.17,182.21 L460.17,182.21 L462.55,182.21 L462.55,182.21 L464.93,182.21 L464.93,182.21 L467.30,182.21 L467.30,182.21 L469.68,182.21 L469.68,182.21 L472.05,182.21 L472.05,182.21 L474.43,182.21 L474.43,182.21 L476.80,182.21 L476.80,182.21 L479.18,182.21 L479.18,182.21 L481.55,182.21 L481.55,182.21 L483.93,182.21" stroke="#c62a2c" stroke-width="1.45"/>
</g>
<rect x="261.05" y="0.57" width="217.00" height="188.45" fill="none" stroke="#000" stroke-width="0.75"/>
<rect x="260.70" y="0" width="217.70" height="1" fill="#080808"/>
<path d="M315.30,189.02 V183.52 M369.55,189.02 V183.52 M423.80,189.02 V183.52 M261.05,182.21 H266.55 M261.05,136.80 H266.55 M261.05,91.39 H266.55 M261.05,45.98 H266.55 M261.05,0.57 H266.55" stroke="#000" stroke-width="0.75" fill="none"/>
<g font-family="Liberation Sans, sans-serif" font-size="12.3" fill="#000" stroke="#000" stroke-width="0.18"><text x="271.65" y="18.77">C</text>
<text x="280.45" y="20.67" font-size="9">4</text>
<text x="285.75" y="18.77">H</text>
<text x="374.65" y="19.07" textLength="93" lengthAdjust="spacingAndGlyphs">9497.4329 MHz</text>
<text x="271.55" y="37.67" font-style="italic">N</text>
<path d="M284.25,32.37 h7.30 M284.25,35.37 h7.30" stroke="#000" stroke-width="1.1" fill="none"/>
<text x="295.65" y="37.67">1</text>
<path d="M305.65,34.07 H313.15" stroke="#000" stroke-width="1.1" fill="none"/><path d="M314.35,34.07 L311.35,31.57 L312.35,34.07 L311.35,36.57 Z" fill="#000"/>
<text x="317.45" y="37.67">0</text>
<path d="M274.80,42.87 L273.50,50.57 Q273.05,52.87 270.65,52.97" stroke="#000" stroke-width="1.3" fill="none"/>
<path d="M278.55,45.67 h7.60 M278.55,48.67 h7.60" stroke="#000" stroke-width="1.1" fill="none"/>
<text x="289.85" y="50.97">3/2</text>
<path d="M311.15,47.37 H318.85" stroke="#000" stroke-width="1.1" fill="none"/><path d="M320.05,47.37 L317.05,44.87 L318.05,47.37 L317.05,49.87 Z" fill="#000"/>
<text x="323.65" y="50.97">1/2</text>
<text x="271.55" y="64.57" font-style="italic">F</text>
<path d="M282.15,59.27 h7.30 M282.15,62.27 h7.30" stroke="#000" stroke-width="1.1" fill="none"/>
<text x="293.65" y="64.57">2</text>
<path d="M303.55,60.97 H311.15" stroke="#000" stroke-width="1.1" fill="none"/><path d="M312.35,60.97 L309.35,58.47 L310.35,60.97 L309.35,63.47 Z" fill="#000"/>
<text x="315.35" y="64.57">1</text></g>
<clipPath id="c2"><rect x="483.93" y="0.57" width="217.00" height="188.45"/></clipPath>
<g clip-path="url(#c2)" fill="none" stroke-linejoin="miter">
<path d="M479.17,181.58 L481.49,181.58 L481.49,182.46 L483.81,182.46 L483.81,182.78 L486.13,182.78 L486.13,182.47 L488.45,182.47 L488.45,182.83 L490.77,182.83 L490.77,182.45 L493.09,182.45 L493.09,181.86 L495.41,181.86 L495.41,182.00 L497.73,182.00 L497.73,181.63 L500.05,181.63 L500.05,181.62 L502.37,181.62 L502.37,181.96 L504.69,181.96 L504.69,182.05 L507.01,182.05 L507.01,181.63 L509.33,181.63 L509.33,181.28 L511.65,181.28 L511.65,180.81 L513.97,180.81 L513.97,181.44 L516.29,181.44 L516.29,182.36 L518.61,182.36 L518.61,182.79 L520.93,182.79 L520.93,183.26 L523.25,183.26 L523.25,183.17 L525.57,183.17 L525.57,181.75 L527.89,181.75 L527.89,180.25 L530.21,180.25 L530.21,180.03 L532.53,180.03 L532.53,181.25 L534.85,181.25 L534.85,181.37 L537.17,181.37 L537.17,181.92 L539.49,181.92 L539.49,182.91 L541.81,182.91 L541.81,182.47 L544.13,182.47 L544.13,182.43 L546.45,182.43 L546.45,183.40 L548.77,183.40 L548.77,183.06 L551.09,183.06 L551.09,182.30 L553.41,182.30 L553.41,182.42 L555.73,182.42 L555.73,182.39 L558.05,182.39 L558.05,182.37 L560.37,182.37 L560.37,183.11 L562.69,183.11 L562.69,182.75 L565.01,182.75 L565.01,183.40 L567.33,183.40 L567.33,182.63 L569.65,182.63 L569.65,181.45 L571.97,181.45 L571.97,179.37 L574.29,179.37 L574.29,177.27 L576.61,177.27 L576.61,175.40 L578.93,175.40 L578.93,173.68 L581.25,173.68 L581.25,173.97 L583.57,173.97 L583.57,174.42 L585.89,174.42 L585.89,173.35 L588.21,173.35 L588.21,168.28 L590.53,168.28 L590.53,163.59 L592.85,163.59 L592.85,156.33 L595.17,156.33 L595.17,145.86 L597.49,145.86 L597.49,137.63 L599.81,137.63 L599.81,136.84 L602.13,136.84 L602.13,144.29 L604.45,144.29 L604.45,157.91 L606.77,157.91 L606.77,171.31 L609.09,171.31 L609.09,179.48 L611.41,179.48 L611.41,182.09 L613.73,182.09 L613.73,182.49 L616.05,182.49 L616.05,183.04 L618.37,183.04 L618.37,184.14 L620.69,184.14 L620.69,183.54 L623.01,183.54 L623.01,183.06 L625.33,183.06 L625.33,183.26 L627.65,183.26 L627.65,182.81 L629.97,182.81 L629.97,182.40 L632.29,182.40 L632.29,182.64 L634.61,182.64 L634.61,182.71 L636.93,182.71 L636.93,182.86 L639.25,182.86 L639.25,182.02 L641.57,182.02 L641.57,181.75 L643.89,181.75 L643.89,181.78 L646.21,181.78 L646.21,182.62 L648.53,182.62 L648.53,182.48 L650.85,182.48 L650.85,182.64 L653.17,182.64 L653.17,182.81 L655.49,182.81 L655.49,183.18 L657.81,183.18 L657.81,182.38 L660.13,182.38 L660.13,181.85 L662.45,181.85 L662.45,182.15 L664.77,182.15 L664.77,181.88 L667.09,181.88 L667.09,182.14 L669.41,182.14 L669.41,182.38 L671.73,182.38 L671.73,182.28 L674.05,182.28 L674.05,182.30 L676.37,182.30 L676.37,183.00 L678.69,183.00 L678.69,183.41 L681.01,183.41 L681.01,183.24 L683.33,183.24 L683.33,183.08 L685.65,183.08 L685.65,182.92 L687.97,182.92 L687.97,183.29 L690.29,183.29 L690.29,183.47 L692.61,183.47 L692.61,183.30 L694.93,183.30 L694.93,182.45 L697.25,182.45 L697.25,182.81 L699.57,182.81 L699.57,183.51 L701.89,183.51 L701.89,182.71 L704.21,182.71 L704.21,182.92 L706.53,182.92" stroke="#000000" stroke-width="1.45"/>
<path d="M480.07,182.21 L482.39,182.21 L482.39,182.21 L484.71,182.21 L484.71,182.21 L487.03,182.21 L487.03,182.21 L489.35,182.21 L489.35,182.21 L491.67,182.21 L491.67,182.21 L493.99,182.21 L493.99,182.21 L496.31,182.21 L496.31,182.21 L498.63,182.21 L498.63,182.21 L500.95,182.21 L500.95,182.21 L503.27,182.21 L503.27,182.21 L505.59,182.21 L505.59,182.21 L507.91,182.21 L507.91,182.21 L510.23,182.21 L510.23,182.21 L512.55,182.21 L512.55,182.21 L514.87,182.21 L514.87,182.21 L517.19,182.21 L517.19,182.21 L519.51,182.21 L519.51,182.21 L521.83,182.21 L521.83,182.21 L524.15,182.21 L524.15,182.21 L526.47,182.21 L526.47,182.21 L528.79,182.21 L528.79,182.21 L531.11,182.21 L531.11,182.21 L533.43,182.21 L533.43,182.21 L535.75,182.21 L535.75,182.21 L538.07,182.21 L538.07,182.21 L540.39,182.21 L540.39,182.21 L542.71,182.21 L542.71,182.21 L545.03,182.21 L545.03,182.21 L547.35,182.21 L547.35,182.21 L549.67,182.21 L549.67,182.21 L551.99,182.21 L551.99,182.21 L554.31,182.21 L554.31,182.21 L556.63,182.21 L556.63,182.21 L558.95,182.21 L558.95,182.21 L561.27,182.21 L561.27,182.21 L563.59,182.21 L563.59,182.21 L565.91,182.21 L565.91,182.21 L568.23,182.21 L568.23,182.21 L570.55,182.21 L570.55,182.21 L572.87,182.21 L572.87,182.21 L575.19,182.21 L575.19,182.21 L577.51,182.21 L577.51,182.21 L579.83,182.21 L579.83,182.20 L582.15,182.20 L582.15,182.17 L584.47,182.17 L584.47,181.99 L586.79,181.99 L586.79,181.17 L589.11,181.17 L589.11,178.41 L591.43,178.41 L591.43,171.66 L593.75,171.66 L593.75,160.03 L596.07,160.03 L596.07,146.79 L598.39,146.79 L598.39,139.30 L600.71,139.30 L600.71,142.75 L603.03,142.75 L603.03,154.68 L605.35,154.68 L605.35,167.63 L607.67,167.63 L607.67,176.35 L609.99,176.35 L609.99,180.42 L612.31,180.42 L612.31,181.80 L614.63,181.80 L614.63,182.14 L616.95,182.14 L616.95,182.20 L619.27,182.20 L619.27,182.21 L621.59,182.21 L621.59,182.21 L623.91,182.21 L623.91,182.21 L626.23,182.21 L626.23,182.21 L628.55,182.21 L628.55,182.21 L630.87,182.21 L630.87,182.21 L633.19,182.21 L633.19,182.21 L635.51,182.21 L635.51,182.21 L637.83,182.21 L637.83,182.21 L640.15,182.21 L640.15,182.21 L642.47,182.21 L642.47,182.21 L644.79,182.21 L644.79,182.21 L647.11,182.21 L647.11,182.21 L649.43,182.21 L649.43,182.21 L651.75,182.21 L651.75,182.21 L654.07,182.21 L654.07,182.21 L656.39,182.21 L656.39,182.21 L658.71,182.21 L658.71,182.21 L661.03,182.21 L661.03,182.21 L663.35,182.21 L663.35,182.21 L665.67,182.21 L665.67,182.21 L667.99,182.21 L667.99,182.21 L670.31,182.21 L670.31,182.21 L672.63,182.21 L672.63,182.21 L674.95,182.21 L674.95,182.21 L677.27,182.21 L677.27,182.21 L679.59,182.21 L679.59,182.21 L681.91,182.21 L681.91,182.21 L684.23,182.21 L684.23,182.21 L686.55,182.21 L686.55,182.21 L688.87,182.21 L688.87,182.21 L691.19,182.21 L691.19,182.21 L693.51,182.21 L693.51,182.21 L695.83,182.21 L695.83,182.21 L698.15,182.21 L698.15,182.21 L700.47,182.21 L700.47,182.21 L702.79,182.21 L702.79,182.21 L705.11,182.21 L705.11,182.21 L707.43,182.21" stroke="#efc35c" stroke-width="1.45"/>
<path d="M479.17,182.21 L481.49,182.21 L481.49,182.21 L483.81,182.21 L483.81,182.21 L486.13,182.21 L486.13,182.21 L488.45,182.21 L488.45,182.21 L490.77,182.21 L490.77,182.21 L493.09,182.21 L493.09,182.21 L495.41,182.21 L495.41,182.21 L497.73,182.21 L497.73,182.21 L500.05,182.21 L500.05,182.21 L502.37,182.21 L502.37,182.21 L504.69,182.21 L504.69,182.21 L507.01,182.21 L507.01,182.21 L509.33,182.21 L509.33,182.21 L511.65,182.21 L511.65,182.21 L513.97,182.21 L513.97,182.21 L516.29,182.21 L516.29,182.21 L518.61,182.21 L518.61,182.21 L520.93,182.21 L520.93,182.21 L523.25,182.21 L523.25,182.21 L525.57,182.21 L525.57,182.21 L527.89,182.21 L527.89,182.21 L530.21,182.21 L530.21,182.21 L532.53,182.21 L532.53,182.21 L534.85,182.21 L534.85,182.21 L537.17,182.21 L537.17,182.21 L539.49,182.21 L539.49,182.21 L541.81,182.21 L541.81,182.21 L544.13,182.21 L544.13,182.21 L546.45,182.21 L546.45,182.21 L548.77,182.21 L548.77,182.21 L551.09,182.21 L551.09,182.21 L553.41,182.21 L553.41,182.21 L555.73,182.21 L555.73,182.21 L558.05,182.21 L558.05,182.21 L560.37,182.21 L560.37,182.21 L562.69,182.21 L562.69,182.21 L565.01,182.21 L565.01,182.21 L567.33,182.21 L567.33,182.21 L569.65,182.21 L569.65,182.21 L571.97,182.21 L571.97,182.21 L574.29,182.21 L574.29,182.21 L576.61,182.21 L576.61,182.20 L578.93,182.20 L578.93,182.17 L581.25,182.17 L581.25,181.91 L583.57,181.91 L583.57,180.80 L585.89,180.80 L585.89,177.61 L588.21,177.61 L588.21,172.02 L590.53,172.02 L590.53,166.84 L592.85,166.84 L592.85,166.44 L595.17,166.44 L595.17,171.21 L597.49,171.21 L597.49,176.99 L599.81,176.99 L599.81,180.52 L602.13,180.52 L602.13,181.84 L604.45,181.84 L604.45,182.15 L606.77,182.15 L606.77,182.20 L609.09,182.20 L609.09,182.21 L611.41,182.21 L611.41,182.21 L613.73,182.21 L613.73,182.21 L616.05,182.21 L616.05,182.21 L618.37,182.21 L618.37,182.21 L620.69,182.21 L620.69,182.21 L623.01,182.21 L623.01,182.21 L625.33,182.21 L625.33,182.21 L627.65,182.21 L627.65,182.21 L629.97,182.21 L629.97,182.21 L632.29,182.21 L632.29,182.21 L634.61,182.21 L634.61,182.21 L636.93,182.21 L636.93,182.21 L639.25,182.21 L639.25,182.21 L641.57,182.21 L641.57,182.21 L643.89,182.21 L643.89,182.21 L646.21,182.21 L646.21,182.21 L648.53,182.21 L648.53,182.21 L650.85,182.21 L650.85,182.21 L653.17,182.21 L653.17,182.21 L655.49,182.21 L655.49,182.21 L657.81,182.21 L657.81,182.21 L660.13,182.21 L660.13,182.21 L662.45,182.21 L662.45,182.21 L664.77,182.21 L664.77,182.21 L667.09,182.21 L667.09,182.21 L669.41,182.21 L669.41,182.21 L671.73,182.21 L671.73,182.21 L674.05,182.21 L674.05,182.21 L676.37,182.21 L676.37,182.21 L678.69,182.21 L678.69,182.21 L681.01,182.21 L681.01,182.21 L683.33,182.21 L683.33,182.21 L685.65,182.21 L685.65,182.21 L687.97,182.21 L687.97,182.21 L690.29,182.21 L690.29,182.21 L692.61,182.21 L692.61,182.21 L694.93,182.21 L694.93,182.21 L697.25,182.21 L697.25,182.21 L699.57,182.21 L699.57,182.21 L701.89,182.21 L701.89,182.21 L704.21,182.21 L704.21,182.21 L706.53,182.21" stroke="#b4cc2a" stroke-width="1.45"/>
<path d="M479.17,182.21 L481.49,182.21 L481.49,182.21 L483.81,182.21 L483.81,182.21 L486.13,182.21 L486.13,182.21 L488.45,182.21 L488.45,182.21 L490.77,182.21 L490.77,182.21 L493.09,182.21 L493.09,182.21 L495.41,182.21 L495.41,182.21 L497.73,182.21 L497.73,182.21 L500.05,182.21 L500.05,182.21 L502.37,182.21 L502.37,182.21 L504.69,182.21 L504.69,182.21 L507.01,182.21 L507.01,182.21 L509.33,182.21 L509.33,182.21 L511.65,182.21 L511.65,182.21 L513.97,182.21 L513.97,182.21 L516.29,182.21 L516.29,182.21 L518.61,182.21 L518.61,182.21 L520.93,182.21 L520.93,182.21 L523.25,182.21 L523.25,182.21 L525.57,182.21 L525.57,182.21 L527.89,182.21 L527.89,182.21 L530.21,182.21 L530.21,182.21 L532.53,182.21 L532.53,182.21 L534.85,182.21 L534.85,182.21 L537.17,182.21 L537.17,182.21 L539.49,182.21 L539.49,182.21 L541.81,182.21 L541.81,182.21 L544.13,182.21 L544.13,182.21 L546.45,182.21 L546.45,182.21 L548.77,182.21 L548.77,182.21 L551.09,182.21 L551.09,182.21 L553.41,182.21 L553.41,182.21 L555.73,182.21 L555.73,182.21 L558.05,182.21 L558.05,182.21 L560.37,182.21 L560.37,182.21 L562.69,182.21 L562.69,182.20 L565.01,182.20 L565.01,182.19 L567.33,182.19 L567.33,182.14 L569.65,182.14 L569.65,182.00 L571.97,182.00 L571.97,181.69 L574.29,181.69 L574.29,181.13 L576.61,181.13 L576.61,180.41 L578.93,180.41 L578.93,179.75 L581.25,179.75 L581.25,179.48 L583.57,179.48 L583.57,179.75 L585.89,179.75 L585.89,180.41 L588.21,180.41 L588.21,181.14 L590.53,181.14 L590.53,181.69 L592.85,181.69 L592.85,182.00 L595.17,182.00 L595.17,182.14 L597.49,182.14 L597.49,182.19 L599.81,182.19 L599.81,182.20 L602.13,182.20 L602.13,182.21 L604.45,182.21 L604.45,182.21 L606.77,182.21 L606.77,182.21 L609.09,182.21 L609.09,182.21 L611.41,182.21 L611.41,182.21 L613.73,182.21 L613.73,182.21 L616.05,182.21 L616.05,182.21 L618.37,182.21 L618.37,182.21 L620.69,182.21 L620.69,182.21 L623.01,182.21 L623.01,182.21 L625.33,182.21 L625.33,182.21 L627.65,182.21 L627.65,182.21 L629.97,182.21 L629.97,182.21 L632.29,182.21 L632.29,182.21 L634.61,182.21 L634.61,182.21 L636.93,182.21 L636.93,182.21 L639.25,182.21 L639.25,182.21 L641.57,182.21 L641.57,182.21 L643.89,182.21 L643.89,182.21 L646.21,182.21 L646.21,182.21 L648.53,182.21 L648.53,182.21 L650.85,182.21 L650.85,182.21 L653.17,182.21 L653.17,182.21 L655.49,182.21 L655.49,182.21 L657.81,182.21 L657.81,182.21 L660.13,182.21 L660.13,182.21 L662.45,182.21 L662.45,182.21 L664.77,182.21 L664.77,182.21 L667.09,182.21 L667.09,182.21 L669.41,182.21 L669.41,182.21 L671.73,182.21 L671.73,182.21 L674.05,182.21 L674.05,182.21 L676.37,182.21 L676.37,182.21 L678.69,182.21 L678.69,182.21 L681.01,182.21 L681.01,182.21 L683.33,182.21 L683.33,182.21 L685.65,182.21 L685.65,182.21 L687.97,182.21 L687.97,182.21 L690.29,182.21 L690.29,182.21 L692.61,182.21 L692.61,182.21 L694.93,182.21 L694.93,182.21 L697.25,182.21 L697.25,182.21 L699.57,182.21 L699.57,182.21 L701.89,182.21 L701.89,182.21 L704.21,182.21 L704.21,182.21 L706.53,182.21" stroke="#b8860b" stroke-width="1.45"/>
<path d="M479.17,182.21 L481.49,182.21 L481.49,182.21 L483.81,182.21 L483.81,182.21 L486.13,182.21 L486.13,182.21 L488.45,182.21 L488.45,182.21 L490.77,182.21 L490.77,182.21 L493.09,182.21 L493.09,182.21 L495.41,182.21 L495.41,182.21 L497.73,182.21 L497.73,182.21 L500.05,182.21 L500.05,182.21 L502.37,182.21 L502.37,182.21 L504.69,182.21 L504.69,182.21 L507.01,182.21 L507.01,182.21 L509.33,182.21 L509.33,182.21 L511.65,182.21 L511.65,182.21 L513.97,182.21 L513.97,182.21 L516.29,182.21 L516.29,182.21 L518.61,182.21 L518.61,182.21 L520.93,182.21 L520.93,182.21 L523.25,182.21 L523.25,182.21 L525.57,182.21 L525.57,182.21 L527.89,182.21 L527.89,182.21 L530.21,182.21 L530.21,182.21 L532.53,182.21 L532.53,182.21 L534.85,182.21 L534.85,182.21 L537.17,182.21 L537.17,182.21 L539.49,182.21 L539.49,182.21 L541.81,182.21 L541.81,182.21 L544.13,182.21 L544.13,182.21 L546.45,182.21 L546.45,182.21 L548.77,182.21 L548.77,182.21 L551.09,182.21 L551.09,182.21 L553.41,182.21 L553.41,182.21 L555.73,182.21 L555.73,182.21 L558.05,182.21 L558.05,182.21 L560.37,182.21 L560.37,182.21 L562.69,182.21 L562.69,182.21 L565.01,182.21 L565.01,182.20 L567.33,182.20 L567.33,182.11 L569.65,182.11 L569.65,181.74 L571.97,181.74 L571.97,180.58 L574.29,180.58 L574.29,178.29 L576.61,178.29 L576.61,175.71 L578.93,175.71 L578.93,174.74 L581.25,174.74 L581.25,176.27 L583.57,176.27 L583.57,178.94 L585.89,178.94 L585.89,180.97 L588.21,180.97 L588.21,181.88 L590.53,181.88 L590.53,182.15 L592.85,182.15 L592.85,182.20 L595.17,182.20 L595.17,182.21 L597.49,182.21 L597.49,182.21 L599.81,182.21 L599.81,182.21 L602.13,182.21 L602.13,182.21 L604.45,182.21 L604.45,182.21 L606.77,182.21 L606.77,182.21 L609.09,182.21 L609.09,182.21 L611.41,182.21 L611.41,182.21 L613.73,182.21 L613.73,182.21 L616.05,182.21 L616.05,182.21 L618.37,182.21 L618.37,182.21 L620.69,182.21 L620.69,182.21 L623.01,182.21 L623.01,182.21 L625.33,182.21 L625.33,182.21 L627.65,182.21 L627.65,182.21 L629.97,182.21 L629.97,182.21 L632.29,182.21 L632.29,182.21 L634.61,182.21 L634.61,182.21 L636.93,182.21 L636.93,182.21 L639.25,182.21 L639.25,182.21 L641.57,182.21 L641.57,182.21 L643.89,182.21 L643.89,182.21 L646.21,182.21 L646.21,182.21 L648.53,182.21 L648.53,182.21 L650.85,182.21 L650.85,182.21 L653.17,182.21 L653.17,182.21 L655.49,182.21 L655.49,182.21 L657.81,182.21 L657.81,182.21 L660.13,182.21 L660.13,182.21 L662.45,182.21 L662.45,182.21 L664.77,182.21 L664.77,182.21 L667.09,182.21 L667.09,182.21 L669.41,182.21 L669.41,182.21 L671.73,182.21 L671.73,182.21 L674.05,182.21 L674.05,182.21 L676.37,182.21 L676.37,182.21 L678.69,182.21 L678.69,182.21 L681.01,182.21 L681.01,182.21 L683.33,182.21 L683.33,182.21 L685.65,182.21 L685.65,182.21 L687.97,182.21 L687.97,182.21 L690.29,182.21 L690.29,182.21 L692.61,182.21 L692.61,182.21 L694.93,182.21 L694.93,182.21 L697.25,182.21 L697.25,182.21 L699.57,182.21 L699.57,182.21 L701.89,182.21 L701.89,182.21 L704.21,182.21 L704.21,182.21 L706.53,182.21" stroke="#4b8fd8" stroke-width="1.45"/>
<path d="M479.17,182.21 L481.49,182.21 L481.49,182.21 L483.81,182.21 L483.81,182.21 L486.13,182.21 L486.13,182.21 L488.45,182.21 L488.45,182.21 L490.77,182.21 L490.77,182.21 L493.09,182.21 L493.09,182.21 L495.41,182.21 L495.41,182.21 L497.73,182.21 L497.73,182.21 L500.05,182.21 L500.05,182.21 L502.37,182.21 L502.37,182.21 L504.69,182.21 L504.69,182.21 L507.01,182.21 L507.01,182.21 L509.33,182.21 L509.33,182.21 L511.65,182.21 L511.65,182.21 L513.97,182.21 L513.97,182.21 L516.29,182.21 L516.29,182.21 L518.61,182.21 L518.61,182.21 L520.93,182.21 L520.93,182.21 L523.25,182.21 L523.25,182.21 L525.57,182.21 L525.57,182.21 L527.89,182.21 L527.89,182.21 L530.21,182.21 L530.21,182.21 L532.53,182.21 L532.53,182.21 L534.85,182.21 L534.85,182.21 L537.17,182.21 L537.17,182.21 L539.49,182.21 L539.49,182.21 L541.81,182.21 L541.81,182.21 L544.13,182.21 L544.13,182.21 L546.45,182.21 L546.45,182.21 L548.77,182.21 L548.77,182.21 L551.09,182.21 L551.09,182.21 L553.41,182.21 L553.41,182.21 L555.73,182.21 L555.73,182.21 L558.05,182.21 L558.05,182.21 L560.37,182.21 L560.37,182.21 L562.69,182.21 L562.69,182.21 L565.01,182.21 L565.01,182.21 L567.33,182.21 L567.33,182.21 L569.65,182.21 L569.65,181.07 L571.97,181.07 L571.97,179.03 L574.29,179.03 L574.29,176.53 L576.61,176.53 L576.61,174.49 L578.93,174.49 L578.93,172.90 L581.25,172.90 L581.25,172.90 L583.57,172.90 L583.57,173.58 L585.89,173.58 L585.89,172.67 L588.21,172.67 L588.21,167.90 L590.53,167.90 L590.53,161.32 L592.85,161.32 L592.85,154.51 L595.17,154.51 L595.17,146.33 L597.49,146.33 L597.49,138.16 L599.81,138.16 L599.81,137.25 L602.13,137.25 L602.13,147.70 L604.45,147.70 L604.45,163.14 L606.77,163.14 L606.77,174.72 L609.09,174.72 L609.09,180.39 L611.41,180.39 L611.41,181.98 L613.73,181.98 L613.73,182.21 L616.05,182.21 L616.05,182.21 L618.37,182.21 L618.37,182.21 L620.69,182.21 L620.69,182.21 L623.01,182.21 L623.01,182.21 L625.33,182.21 L625.33,182.21 L627.65,182.21 L627.65,182.21 L629.97,182.21 L629.97,182.21 L632.29,182.21 L632.29,182.21 L634.61,182.21 L634.61,182.21 L636.93,182.21 L636.93,182.21 L639.25,182.21 L639.25,182.21 L641.57,182.21 L641.57,182.21 L643.89,182.21 L643.89,182.21 L646.21,182.21 L646.21,182.21 L648.53,182.21 L648.53,182.21 L650.85,182.21 L650.85,182.21 L653.17,182.21 L653.17,182.21 L655.49,182.21 L655.49,182.21 L657.81,182.21 L657.81,182.21 L660.13,182.21 L660.13,182.21 L662.45,182.21 L662.45,182.21 L664.77,182.21 L664.77,182.21 L667.09,182.21 L667.09,182.21 L669.41,182.21 L669.41,182.21 L671.73,182.21 L671.73,182.21 L674.05,182.21 L674.05,182.21 L676.37,182.21 L676.37,182.21 L678.69,182.21 L678.69,182.21 L681.01,182.21 L681.01,182.21 L683.33,182.21 L683.33,182.21 L685.65,182.21 L685.65,182.21 L687.97,182.21 L687.97,182.21 L690.29,182.21 L690.29,182.21 L692.61,182.21 L692.61,182.21 L694.93,182.21 L694.93,182.21 L697.25,182.21 L697.25,182.21 L699.57,182.21 L699.57,182.21 L701.89,182.21 L701.89,182.21 L704.21,182.21 L704.21,182.21 L706.53,182.21" stroke="#c62a2c" stroke-width="1.45"/>
</g>
<rect x="483.93" y="0.57" width="217.00" height="188.45" fill="none" stroke="#000" stroke-width="0.75"/>
<rect x="483.58" y="0" width="217.70" height="1" fill="#080808"/>
<path d="M538.18,189.02 V183.52 M592.43,189.02 V183.52 M646.68,189.02 V183.52 M483.93,182.21 H489.43 M483.93,136.80 H489.43 M483.93,91.39 H489.43 M483.93,45.98 H489.43 M483.93,0.57 H489.43" stroke="#000" stroke-width="0.75" fill="none"/>
<g font-family="Liberation Sans, sans-serif" font-size="12.3" fill="#000" stroke="#000" stroke-width="0.18"><text x="494.53" y="18.77">C</text>
<text x="503.33" y="20.67" font-size="9">4</text>
<text x="508.63" y="18.77">H</text>
<text x="597.53" y="19.07" textLength="93" lengthAdjust="spacingAndGlyphs">9507.8224 MHz</text>
<text x="494.43" y="37.67" font-style="italic">N</text>
<path d="M507.13,32.37 h7.30 M507.13,35.37 h7.30" stroke="#000" stroke-width="1.1" fill="none"/>
<text x="518.53" y="37.67">1</text>
<path d="M528.53,34.07 H536.03" stroke="#000" stroke-width="1.1" fill="none"/><path d="M537.23,34.07 L534.23,31.57 L535.23,34.07 L534.23,36.57 Z" fill="#000"/>
<text x="540.33" y="37.67">0</text>
<path d="M497.68,42.87 L496.38,50.57 Q495.93,52.87 493.53,52.97" stroke="#000" stroke-width="1.3" fill="none"/>
<path d="M501.43,45.67 h7.60 M501.43,48.67 h7.60" stroke="#000" stroke-width="1.1" fill="none"/>
<text x="512.73" y="50.97">3/2</text>
<path d="M534.03,47.37 H541.73" stroke="#000" stroke-width="1.1" fill="none"/><path d="M542.93,47.37 L539.93,44.87 L540.93,47.37 L539.93,49.87 Z" fill="#000"/>
<text x="546.53" y="50.97">1/2</text>
<text x="494.43" y="64.57" font-style="italic">F</text>
<path d="M505.03,59.27 h7.30 M505.03,62.27 h7.30" stroke="#000" stroke-width="1.1" fill="none"/>
<text x="516.33" y="64.57">1</text>
<path d="M526.43,60.97 H534.03" stroke="#000" stroke-width="1.1" fill="none"/><path d="M535.23,60.97 L532.23,58.47 L533.23,60.97 L532.23,63.47 Z" fill="#000"/>
<text x="538.23" y="64.57">1</text></g>
<clipPath id="c3"><rect x="38.50" y="199.45" width="217.00" height="188.45"/></clipPath>
<g clip-path="url(#c3)" fill="none" stroke-linejoin="miter">
<path d="M34.34,382.92 L36.70,382.92 L36.70,382.39 L39.06,382.39 L39.06,381.93 L41.42,381.93 L41.42,381.24 L43.78,381.24 L43.78,380.33 L46.15,380.33 L46.15,380.01 L48.51,380.01 L48.51,380.28 L50.87,380.28 L50.87,380.46 L53.23,380.46 L53.23,381.31 L55.59,381.31 L55.59,381.25 L57.95,381.25 L57.95,381.88 L60.31,381.88 L60.31,381.41 L62.67,381.41 L62.67,381.11 L65.04,381.11 L65.04,380.10 L67.40,380.10 L67.40,380.79 L69.76,380.79 L69.76,381.08 L72.12,381.08 L72.12,382.05 L74.48,382.05 L74.48,381.34 L76.84,381.34 L76.84,380.34 L79.20,380.34 L79.20,379.74 L81.56,379.74 L81.56,379.48 L83.93,379.48 L83.93,379.83 L86.29,379.83 L86.29,380.48 L88.65,380.48 L88.65,381.10 L91.01,381.10 L91.01,381.54 L93.37,381.54 L93.37,381.05 L95.73,381.05 L95.73,381.11 L98.09,381.11 L98.09,380.80 L100.45,380.80 L100.45,380.54 L102.82,380.54 L102.82,381.00 L105.18,381.00 L105.18,381.27 L107.54,381.27 L107.54,381.60 L109.90,381.60 L109.90,381.02 L112.26,381.02 L112.26,381.69 L114.62,381.69 L114.62,381.19 L116.98,381.19 L116.98,381.18 L119.34,381.18 L119.34,379.12 L121.70,379.12 L121.70,377.10 L124.07,377.10 L124.07,375.66 L126.43,375.66 L126.43,373.62 L128.79,373.62 L128.79,372.26 L131.15,372.26 L131.15,372.24 L133.51,372.24 L133.51,372.65 L135.87,372.65 L135.87,372.75 L138.23,372.75 L138.23,369.96 L140.59,369.96 L140.59,362.77 L142.96,362.77 L142.96,352.93 L145.32,352.93 L145.32,342.94 L147.68,342.94 L147.68,335.22 L150.04,335.22 L150.04,334.40 L152.40,334.40 L152.40,344.76 L154.76,344.76 L154.76,359.06 L157.12,359.06 L157.12,370.10 L159.48,370.10 L159.48,377.28 L161.85,377.28 L161.85,379.85 L164.21,379.85 L164.21,381.05 L166.57,381.05 L166.57,381.43 L168.93,381.43 L168.93,381.80 L171.29,381.80 L171.29,381.87 L173.65,381.87 L173.65,381.43 L176.01,381.43 L176.01,380.83 L178.37,380.83 L178.37,379.95 L180.74,379.95 L180.74,379.85 L183.10,379.85 L183.10,380.32 L185.46,380.32 L185.46,380.54 L187.82,380.54 L187.82,380.87 L190.18,380.87 L190.18,381.53 L192.54,381.53 L192.54,380.65 L194.90,380.65 L194.90,380.64 L197.26,380.64 L197.26,380.78 L199.63,380.78 L199.63,380.28 L201.99,380.28 L201.99,380.28 L204.35,380.28 L204.35,380.18 L206.71,380.18 L206.71,380.80 L209.07,380.80 L209.07,380.66 L211.43,380.66 L211.43,381.43 L213.79,381.43 L213.79,382.03 L216.15,382.03 L216.15,381.46 L218.52,381.46 L218.52,382.01 L220.88,382.01 L220.88,380.86 L223.24,380.86 L223.24,380.80 L225.60,380.80 L225.60,380.61 L227.96,380.61 L227.96,380.82 L230.32,380.82 L230.32,381.37 L232.68,381.37 L232.68,381.79 L235.04,381.79 L235.04,381.62 L237.41,381.62 L237.41,381.71 L239.77,381.71 L239.77,382.18 L242.13,382.18 L242.13,382.00 L244.49,382.00 L244.49,382.84 L246.85,382.84 L246.85,382.33 L249.21,382.33 L249.21,382.30 L251.57,382.30 L251.57,381.81 L253.93,381.81 L253.93,381.01 L256.29,381.01 L256.29,381.62 L258.66,381.62 L258.66,380.41 L261.02,380.41" stroke="#000000" stroke-width="1.45"/>
<path d="M35.24,381.09 L37.60,381.09 L37.60,381.09 L39.96,381.09 L39.96,381.09 L42.32,381.09 L42.32,381.09 L44.68,381.09 L44.68,381.09 L47.05,381.09 L47.05,381.09 L49.41,381.09 L49.41,381.09 L51.77,381.09 L51.77,381.09 L54.13,381.09 L54.13,381.09 L56.49,381.09 L56.49,381.09 L58.85,381.09 L58.85,381.09 L61.21,381.09 L61.21,381.09 L63.57,381.09 L63.57,381.09 L65.94,381.09 L65.94,381.09 L68.30,381.09 L68.30,381.09 L70.66,381.09 L70.66,381.09 L73.02,381.09 L73.02,381.09 L75.38,381.09 L75.38,381.09 L77.74,381.09 L77.74,381.09 L80.10,381.09 L80.10,381.09 L82.46,381.09 L82.46,381.09 L84.83,381.09 L84.83,381.09 L87.19,381.09 L87.19,381.09 L89.55,381.09 L89.55,381.09 L91.91,381.09 L91.91,381.09 L94.27,381.09 L94.27,381.09 L96.63,381.09 L96.63,381.09 L98.99,381.09 L98.99,381.09 L101.35,381.09 L101.35,381.09 L103.72,381.09 L103.72,381.09 L106.08,381.09 L106.08,381.09 L108.44,381.09 L108.44,381.09 L110.80,381.09 L110.80,381.09 L113.16,381.09 L113.16,381.09 L115.52,381.09 L115.52,381.09 L117.88,381.09 L117.88,381.09 L120.24,381.09 L120.24,381.09 L122.60,381.09 L122.60,381.09 L124.97,381.09 L124.97,381.09 L127.33,381.09 L127.33,381.09 L129.69,381.09 L129.69,381.09 L132.05,381.09 L132.05,381.08 L134.41,381.08 L134.41,381.00 L136.77,381.00 L136.77,380.61 L139.13,380.61 L139.13,379.02 L141.49,379.02 L141.49,374.39 L143.86,374.39 L143.86,364.80 L146.22,364.80 L146.22,351.31 L148.58,351.31 L148.58,340.19 L150.94,340.19 L150.94,338.88 L153.30,338.88 L153.30,348.35 L155.66,348.35 L155.66,362.02 L158.02,362.02 L158.02,372.74 L160.38,372.74 L160.38,378.34 L162.75,378.34 L162.75,380.41 L165.11,380.41 L165.11,380.96 L167.47,380.96 L167.47,381.07 L169.83,381.07 L169.83,381.09 L172.19,381.09 L172.19,381.09 L174.55,381.09 L174.55,381.09 L176.91,381.09 L176.91,381.09 L179.27,381.09 L179.27,381.09 L181.64,381.09 L181.64,381.09 L184.00,381.09 L184.00,381.09 L186.36,381.09 L186.36,381.09 L188.72,381.09 L188.72,381.09 L191.08,381.09 L191.08,381.09 L193.44,381.09 L193.44,381.09 L195.80,381.09 L195.80,381.09 L198.16,381.09 L198.16,381.09 L200.53,381.09 L200.53,381.09 L202.89,381.09 L202.89,381.09 L205.25,381.09 L205.25,381.09 L207.61,381.09 L207.61,381.09 L209.97,381.09 L209.97,381.09 L212.33,381.09 L212.33,381.09 L214.69,381.09 L214.69,381.09 L217.05,381.09 L217.05,381.09 L219.42,381.09 L219.42,381.09 L221.78,381.09 L221.78,381.09 L224.14,381.09 L224.14,381.09 L226.50,381.09 L226.50,381.09 L228.86,381.09 L228.86,381.09 L231.22,381.09 L231.22,381.09 L233.58,381.09 L233.58,381.09 L235.94,381.09 L235.94,381.09 L238.31,381.09 L238.31,381.09 L240.67,381.09 L240.67,381.09 L243.03,381.09 L243.03,381.09 L245.39,381.09 L245.39,381.09 L247.75,381.09 L247.75,381.09 L250.11,381.09 L250.11,381.09 L252.47,381.09 L252.47,381.09 L254.83,381.09 L254.83,381.09 L257.19,381.09 L257.19,381.09 L259.56,381.09 L259.56,381.09 L261.92,381.09" stroke="#efc35c" stroke-width="1.45"/>
<path d="M34.34,381.09 L36.70,381.09 L36.70,381.09 L39.06,381.09 L39.06,381.09 L41.42,381.09 L41.42,381.09 L43.78,381.09 L43.78,381.09 L46.15,381.09 L46.15,381.09 L48.51,381.09 L48.51,381.09 L50.87,381.09 L50.87,381.09 L53.23,381.09 L53.23,381.09 L55.59,381.09 L55.59,381.09 L57.95,381.09 L57.95,381.09 L60.31,381.09 L60.31,381.09 L62.67,381.09 L62.67,381.09 L65.04,381.09 L65.04,381.09 L67.40,381.09 L67.40,381.09 L69.76,381.09 L69.76,381.09 L72.12,381.09 L72.12,381.09 L74.48,381.09 L74.48,381.09 L76.84,381.09 L76.84,381.09 L79.20,381.09 L79.20,381.09 L81.56,381.09 L81.56,381.09 L83.93,381.09 L83.93,381.09 L86.29,381.09 L86.29,381.09 L88.65,381.09 L88.65,381.09 L91.01,381.09 L91.01,381.09 L93.37,381.09 L93.37,381.09 L95.73,381.09 L95.73,381.09 L98.09,381.09 L98.09,381.09 L100.45,381.09 L100.45,381.09 L102.82,381.09 L102.82,381.09 L105.18,381.09 L105.18,381.09 L107.54,381.09 L107.54,381.09 L109.90,381.09 L109.90,381.09 L112.26,381.09 L112.26,381.09 L114.62,381.09 L114.62,381.09 L116.98,381.09 L116.98,381.09 L119.34,381.09 L119.34,381.09 L121.70,381.09 L121.70,381.09 L124.07,381.09 L124.07,381.09 L126.43,381.09 L126.43,381.08 L128.79,381.08 L128.79,381.05 L131.15,381.05 L131.15,380.82 L133.51,380.82 L133.51,379.79 L135.87,379.79 L135.87,376.80 L138.23,376.80 L138.23,371.24 L140.59,371.24 L140.59,365.41 L142.96,365.41 L142.96,363.77 L145.32,363.77 L145.32,367.81 L147.68,367.81 L147.68,374.02 L150.04,374.02 L150.04,378.48 L152.40,378.48 L152.40,380.42 L154.76,380.42 L154.76,380.97 L157.12,380.97 L157.12,381.07 L159.48,381.07 L159.48,381.09 L161.85,381.09 L161.85,381.09 L164.21,381.09 L164.21,381.09 L166.57,381.09 L166.57,381.09 L168.93,381.09 L168.93,381.09 L171.29,381.09 L171.29,381.09 L173.65,381.09 L173.65,381.09 L176.01,381.09 L176.01,381.09 L178.37,381.09 L178.37,381.09 L180.74,381.09 L180.74,381.09 L183.10,381.09 L183.10,381.09 L185.46,381.09 L185.46,381.09 L187.82,381.09 L187.82,381.09 L190.18,381.09 L190.18,381.09 L192.54,381.09 L192.54,381.09 L194.90,381.09 L194.90,381.09 L197.26,381.09 L197.26,381.09 L199.63,381.09 L199.63,381.09 L201.99,381.09 L201.99,381.09 L204.35,381.09 L204.35,381.09 L206.71,381.09 L206.71,381.09 L209.07,381.09 L209.07,381.09 L211.43,381.09 L211.43,381.09 L213.79,381.09 L213.79,381.09 L216.15,381.09 L216.15,381.09 L218.52,381.09 L218.52,381.09 L220.88,381.09 L220.88,381.09 L223.24,381.09 L223.24,381.09 L225.60,381.09 L225.60,381.09 L227.96,381.09 L227.96,381.09 L230.32,381.09 L230.32,381.09 L232.68,381.09 L232.68,381.09 L235.04,381.09 L235.04,381.09 L237.41,381.09 L237.41,381.09 L239.77,381.09 L239.77,381.09 L242.13,381.09 L242.13,381.09 L244.49,381.09 L244.49,381.09 L246.85,381.09 L246.85,381.09 L249.21,381.09 L249.21,381.09 L251.57,381.09 L251.57,381.09 L253.93,381.09 L253.93,381.09 L256.29,381.09 L256.29,381.09 L258.66,381.09 L258.66,381.09 L261.02,381.09" stroke="#b4cc2a" stroke-width="1.45"/>
<path d="M34.34,381.09 L36.70,381.09 L36.70,381.09 L39.06,381.09 L39.06,381.09 L41.42,381.09 L41.42,381.09 L43.78,381.09 L43.78,381.09 L46.15,381.09 L46.15,381.09 L48.51,381.09 L48.51,381.09 L50.87,381.09 L50.87,381.09 L53.23,381.09 L53.23,381.09 L55.59,381.09 L55.59,381.09 L57.95,381.09 L57.95,381.09 L60.31,381.09 L60.31,381.09 L62.67,381.09 L62.67,381.09 L65.04,381.09 L65.04,381.09 L67.40,381.09 L67.40,381.09 L69.76,381.09 L69.76,381.09 L72.12,381.09 L72.12,381.09 L74.48,381.09 L74.48,381.09 L76.84,381.09 L76.84,381.09 L79.20,381.09 L79.20,381.09 L81.56,381.09 L81.56,381.09 L83.93,381.09 L83.93,381.09 L86.29,381.09 L86.29,381.09 L88.65,381.09 L88.65,381.09 L91.01,381.09 L91.01,381.09 L93.37,381.09 L93.37,381.09 L95.73,381.09 L95.73,381.09 L98.09,381.09 L98.09,381.09 L100.45,381.09 L100.45,381.09 L102.82,381.09 L102.82,381.09 L105.18,381.09 L105.18,381.09 L107.54,381.09 L107.54,381.09 L109.90,381.09 L109.90,381.09 L112.26,381.09 L112.26,381.09 L114.62,381.09 L114.62,381.08 L116.98,381.08 L116.98,381.06 L119.34,381.06 L119.34,380.97 L121.70,380.97 L121.70,380.75 L124.07,380.75 L124.07,380.29 L126.43,380.29 L126.43,379.58 L128.79,379.58 L128.79,378.77 L131.15,378.77 L131.15,378.21 L133.51,378.21 L133.51,378.22 L135.87,378.22 L135.87,378.77 L138.23,378.77 L138.23,379.58 L140.59,379.58 L140.59,380.30 L142.96,380.30 L142.96,380.75 L145.32,380.75 L145.32,380.97 L147.68,380.97 L147.68,381.06 L150.04,381.06 L150.04,381.08 L152.40,381.08 L152.40,381.09 L154.76,381.09 L154.76,381.09 L157.12,381.09 L157.12,381.09 L159.48,381.09 L159.48,381.09 L161.85,381.09 L161.85,381.09 L164.21,381.09 L164.21,381.09 L166.57,381.09 L166.57,381.09 L168.93,381.09 L168.93,381.09 L171.29,381.09 L171.29,381.09 L173.65,381.09 L173.65,381.09 L176.01,381.09 L176.01,381.09 L178.37,381.09 L178.37,381.09 L180.74,381.09 L180.74,381.09 L183.10,381.09 L183.10,381.09 L185.46,381.09 L185.46,381.09 L187.82,381.09 L187.82,381.09 L190.18,381.09 L190.18,381.09 L192.54,381.09 L192.54,381.09 L194.90,381.09 L194.90,381.09 L197.26,381.09 L197.26,381.09 L199.63,381.09 L199.63,381.09 L201.99,381.09 L201.99,381.09 L204.35,381.09 L204.35,381.09 L206.71,381.09 L206.71,381.09 L209.07,381.09 L209.07,381.09 L211.43,381.09 L211.43,381.09 L213.79,381.09 L213.79,381.09 L216.15,381.09 L216.15,381.09 L218.52,381.09 L218.52,381.09 L220.88,381.09 L220.88,381.09 L223.24,381.09 L223.24,381.09 L225.60,381.09 L225.60,381.09 L227.96,381.09 L227.96,381.09 L230.32,381.09 L230.32,381.09 L232.68,381.09 L232.68,381.09 L235.04,381.09 L235.04,381.09 L237.41,381.09 L237.41,381.09 L239.77,381.09 L239.77,381.09 L242.13,381.09 L242.13,381.09 L244.49,381.09 L244.49,381.09 L246.85,381.09 L246.85,381.09 L249.21,381.09 L249.21,381.09 L251.57,381.09 L251.57,381.09 L253.93,381.09 L253.93,381.09 L256.29,381.09 L256.29,381.09 L258.66,381.09 L258.66,381.09 L261.02,381.09" stroke="#b8860b" stroke-width="1.45"/>
<path d="M34.34,381.09 L36.70,381.09 L36.70,381.09 L39.06,381.09 L39.06,381.09 L41.42,381.09 L41.42,381.09 L43.78,381.09 L43.78,381.09 L46.15,381.09 L46.15,381.09 L48.51,381.09 L48.51,381.09 L50.87,381.09 L50.87,381.09 L53.23,381.09 L53.23,381.09 L55.59,381.09 L55.59,381.09 L57.95,381.09 L57.95,381.09 L60.31,381.09 L60.31,381.09 L62.67,381.09 L62.67,381.09 L65.04,381.09 L65.04,381.09 L67.40,381.09 L67.40,381.09 L69.76,381.09 L69.76,381.09 L72.12,381.09 L72.12,381.09 L74.48,381.09 L74.48,381.09 L76.84,381.09 L76.84,381.09 L79.20,381.09 L79.20,381.09 L81.56,381.09 L81.56,381.09 L83.93,381.09 L83.93,381.09 L86.29,381.09 L86.29,381.09 L88.65,381.09 L88.65,381.09 L91.01,381.09 L91.01,381.09 L93.37,381.09 L93.37,381.09 L95.73,381.09 L95.73,381.09 L98.09,381.09 L98.09,381.09 L100.45,381.09 L100.45,381.09 L102.82,381.09 L102.82,381.09 L105.18,381.09 L105.18,381.09 L107.54,381.09 L107.54,381.09 L109.90,381.09 L109.90,381.09 L112.26,381.09 L112.26,381.09 L114.62,381.09 L114.62,381.08 L116.98,381.08 L116.98,381.05 L119.34,381.05 L119.34,380.85 L121.70,380.85 L121.70,380.09 L124.07,380.09 L124.07,378.26 L126.43,378.26 L126.43,375.63 L128.79,375.63 L128.79,373.89 L131.15,373.89 L131.15,374.61 L133.51,374.61 L133.51,377.11 L135.87,377.11 L135.87,379.42 L138.23,379.42 L138.23,380.61 L140.59,380.61 L140.59,380.99 L142.96,380.99 L142.96,381.08 L145.32,381.08 L145.32,381.09 L147.68,381.09 L147.68,381.09 L150.04,381.09 L150.04,381.09 L152.40,381.09 L152.40,381.09 L154.76,381.09 L154.76,381.09 L157.12,381.09 L157.12,381.09 L159.48,381.09 L159.48,381.09 L161.85,381.09 L161.85,381.09 L164.21,381.09 L164.21,381.09 L166.57,381.09 L166.57,381.09 L168.93,381.09 L168.93,381.09 L171.29,381.09 L171.29,381.09 L173.65,381.09 L173.65,381.09 L176.01,381.09 L176.01,381.09 L178.37,381.09 L178.37,381.09 L180.74,381.09 L180.74,381.09 L183.10,381.09 L183.10,381.09 L185.46,381.09 L185.46,381.09 L187.82,381.09 L187.82,381.09 L190.18,381.09 L190.18,381.09 L192.54,381.09 L192.54,381.09 L194.90,381.09 L194.90,381.09 L197.26,381.09 L197.26,381.09 L199.63,381.09 L199.63,381.09 L201.99,381.09 L201.99,381.09 L204.35,381.09 L204.35,381.09 L206.71,381.09 L206.71,381.09 L209.07,381.09 L209.07,381.09 L211.43,381.09 L211.43,381.09 L213.79,381.09 L213.79,381.09 L216.15,381.09 L216.15,381.09 L218.52,381.09 L218.52,381.09 L220.88,381.09 L220.88,381.09 L223.24,381.09 L223.24,381.09 L225.60,381.09 L225.60,381.09 L227.96,381.09 L227.96,381.09 L230.32,381.09 L230.32,381.09 L232.68,381.09 L232.68,381.09 L235.04,381.09 L235.04,381.09 L237.41,381.09 L237.41,381.09 L239.77,381.09 L239.77,381.09 L242.13,381.09 L242.13,381.09 L244.49,381.09 L244.49,381.09 L246.85,381.09 L246.85,381.09 L249.21,381.09 L249.21,381.09 L251.57,381.09 L251.57,381.09 L253.93,381.09 L253.93,381.09 L256.29,381.09 L256.29,381.09 L258.66,381.09 L258.66,381.09 L261.02,381.09" stroke="#4b8fd8" stroke-width="1.45"/>
<path d="M34.34,381.09 L36.70,381.09 L36.70,381.09 L39.06,381.09 L39.06,381.09 L41.42,381.09 L41.42,381.09 L43.78,381.09 L43.78,381.09 L46.15,381.09 L46.15,381.09 L48.51,381.09 L48.51,381.09 L50.87,381.09 L50.87,381.09 L53.23,381.09 L53.23,381.09 L55.59,381.09 L55.59,381.09 L57.95,381.09 L57.95,381.09 L60.31,381.09 L60.31,381.09 L62.67,381.09 L62.67,381.09 L65.04,381.09 L65.04,381.09 L67.40,381.09 L67.40,381.09 L69.76,381.09 L69.76,381.09 L72.12,381.09 L72.12,381.09 L74.48,381.09 L74.48,381.09 L76.84,381.09 L76.84,381.09 L79.20,381.09 L79.20,381.09 L81.56,381.09 L81.56,381.09 L83.93,381.09 L83.93,381.09 L86.29,381.09 L86.29,381.09 L88.65,381.09 L88.65,381.09 L91.01,381.09 L91.01,381.09 L93.37,381.09 L93.37,381.09 L95.73,381.09 L95.73,381.09 L98.09,381.09 L98.09,381.09 L100.45,381.09 L100.45,381.09 L102.82,381.09 L102.82,381.09 L105.18,381.09 L105.18,381.09 L107.54,381.09 L107.54,381.09 L109.90,381.09 L109.90,381.09 L112.26,381.09 L112.26,381.09 L114.62,381.09 L114.62,381.09 L116.98,381.09 L116.98,381.09 L119.34,381.09 L119.34,379.50 L121.70,379.50 L121.70,377.68 L124.07,377.68 L124.07,376.09 L126.43,376.09 L126.43,374.05 L128.79,374.05 L128.79,372.23 L131.15,372.23 L131.15,372.01 L133.51,372.01 L133.51,372.46 L135.87,372.46 L135.87,372.69 L138.23,372.69 L138.23,367.92 L140.59,367.92 L140.59,362.70 L142.96,362.70 L142.96,354.75 L145.32,354.75 L145.32,347.03 L147.68,347.03 L147.68,336.59 L150.04,336.59 L150.04,334.54 L152.40,334.54 L152.40,342.26 L154.76,342.26 L154.76,357.70 L157.12,357.70 L157.12,370.42 L159.48,370.42 L159.48,377.46 L161.85,377.46 L161.85,379.95 L164.21,379.95 L164.21,381.09 L166.57,381.09 L166.57,381.09 L168.93,381.09 L168.93,381.09 L171.29,381.09 L171.29,381.09 L173.65,381.09 L173.65,381.09 L176.01,381.09 L176.01,381.09 L178.37,381.09 L178.37,381.09 L180.74,381.09 L180.74,381.09 L183.10,381.09 L183.10,381.09 L185.46,381.09 L185.46,381.09 L187.82,381.09 L187.82,381.09 L190.18,381.09 L190.18,381.09 L192.54,381.09 L192.54,381.09 L194.90,381.09 L194.90,381.09 L197.26,381.09 L197.26,381.09 L199.63,381.09 L199.63,381.09 L201.99,381.09 L201.99,381.09 L204.35,381.09 L204.35,381.09 L206.71,381.09 L206.71,381.09 L209.07,381.09 L209.07,381.09 L211.43,381.09 L211.43,381.09 L213.79,381.09 L213.79,381.09 L216.15,381.09 L216.15,381.09 L218.52,381.09 L218.52,381.09 L220.88,381.09 L220.88,381.09 L223.24,381.09 L223.24,381.09 L225.60,381.09 L225.60,381.09 L227.96,381.09 L227.96,381.09 L230.32,381.09 L230.32,381.09 L232.68,381.09 L232.68,381.09 L235.04,381.09 L235.04,381.09 L237.41,381.09 L237.41,381.09 L239.77,381.09 L239.77,381.09 L242.13,381.09 L242.13,381.09 L244.49,381.09 L244.49,381.09 L246.85,381.09 L246.85,381.09 L249.21,381.09 L249.21,381.09 L251.57,381.09 L251.57,381.09 L253.93,381.09 L253.93,381.09 L256.29,381.09 L256.29,381.09 L258.66,381.09 L258.66,381.09 L261.02,381.09" stroke="#c62a2c" stroke-width="1.45"/>
</g>
<rect x="38.50" y="199.45" width="217.00" height="188.45" fill="none" stroke="#000" stroke-width="0.75"/>
<path d="M92.75,387.90 V382.40 M147.00,387.90 V382.40 M201.25,387.90 V382.40 M38.50,381.09 H44.00 M38.50,335.68 H44.00 M38.50,290.27 H44.00 M38.50,244.86 H44.00 M38.50,199.45 H44.00" stroke="#000" stroke-width="0.75" fill="none"/>
<g font-family="Liberation Sans, sans-serif" font-size="12.3" fill="#000" stroke="#000" stroke-width="0.18"><text x="49.10" y="217.65">C</text>
<text x="57.90" y="219.55" font-size="9">4</text>
<text x="63.20" y="217.65">H</text>
<text x="152.10" y="217.95" textLength="93" lengthAdjust="spacingAndGlyphs">9547.7751 MHz</text>
<text x="49.00" y="236.55" font-style="italic">N</text>
<path d="M61.70,231.25 h7.30 M61.70,234.25 h7.30" stroke="#000" stroke-width="1.1" fill="none"/>
<text x="73.10" y="236.55">1</text>
<path d="M83.10,232.95 H90.60" stroke="#000" stroke-width="1.1" fill="none"/><path d="M91.80,232.95 L88.80,230.45 L89.80,232.95 L88.80,235.45 Z" fill="#000"/>
<text x="94.90" y="236.55">0</text>
<path d="M52.25,241.75 L50.95,249.45 Q50.50,251.75 48.10,251.85" stroke="#000" stroke-width="1.3" fill="none"/>
<path d="M56.00,244.55 h7.60 M56.00,247.55 h7.60" stroke="#000" stroke-width="1.1" fill="none"/>
<text x="67.30" y="249.85">1/2</text>
<path d="M88.60,246.25 H96.30" stroke="#000" stroke-width="1.1" fill="none"/><path d="M97.50,246.25 L94.50,243.75 L95.50,246.25 L94.50,248.75 Z" fill="#000"/>
<text x="101.10" y="249.85">1/2</text>
<text x="49.00" y="263.45" font-style="italic">F</text>
<path d="M59.60,258.15 h7.30 M59.60,261.15 h7.30" stroke="#000" stroke-width="1.1" fill="none"/>
<text x="70.90" y="263.45">1</text>
<path d="M81.00,259.85 H88.60" stroke="#000" stroke-width="1.1" fill="none"/><path d="M89.80,259.85 L86.80,257.35 L87.80,259.85 L86.80,262.35 Z" fill="#000"/>
<text x="92.80" y="263.45">0</text></g>
<clipPath id="c4"><rect x="261.05" y="199.45" width="217.00" height="188.45"/></clipPath>
<g clip-path="url(#c4)" fill="none" stroke-linejoin="miter">
<path d="M257.07,380.75 L259.43,380.75 L259.43,380.35 L261.79,380.35 L261.79,380.85 L264.15,380.85 L264.15,380.11 L266.51,380.11 L266.51,380.01 L268.87,380.01 L268.87,380.47 L271.23,380.47 L271.23,380.10 L273.59,380.10 L273.59,379.59 L275.95,379.59 L275.95,379.93 L278.31,379.93 L278.31,380.07 L280.67,380.07 L280.67,379.86 L283.04,379.86 L283.04,380.61 L285.40,380.61 L285.40,380.78 L287.76,380.78 L287.76,380.22 L290.12,380.22 L290.12,380.04 L292.48,380.04 L292.48,379.80 L294.84,379.80 L294.84,379.46 L297.20,379.46 L297.20,379.63 L299.56,379.63 L299.56,380.59 L301.92,380.59 L301.92,379.92 L304.28,379.92 L304.28,380.32 L306.64,380.32 L306.64,380.56 L309.00,380.56 L309.00,380.71 L311.36,380.71 L311.36,380.49 L313.72,380.49 L313.72,380.63 L316.08,380.63 L316.08,380.71 L318.44,380.71 L318.44,380.49 L320.80,380.49 L320.80,381.20 L323.16,381.20 L323.16,380.93 L325.52,380.93 L325.52,381.20 L327.88,381.20 L327.88,381.61 L330.24,381.61 L330.24,381.68 L332.60,381.68 L332.60,381.82 L334.96,381.82 L334.96,382.02 L337.32,382.02 L337.32,381.94 L339.68,381.94 L339.68,382.21 L342.04,382.21 L342.04,381.58 L344.40,381.58 L344.40,379.95 L346.76,379.95 L346.76,377.80 L349.12,377.80 L349.12,375.75 L351.49,375.75 L351.49,373.83 L353.85,373.83 L353.85,373.23 L356.21,373.23 L356.21,374.27 L358.57,374.27 L358.57,374.67 L360.93,374.67 L360.93,373.56 L363.29,373.56 L363.29,372.01 L365.65,372.01 L365.65,364.85 L368.01,364.85 L368.01,360.43 L370.37,360.43 L370.37,352.78 L372.73,352.78 L372.73,346.35 L375.09,346.35 L375.09,346.77 L377.45,346.77 L377.45,355.09 L379.81,355.09 L379.81,366.34 L382.17,366.34 L382.17,373.82 L384.53,373.82 L384.53,378.85 L386.89,378.85 L386.89,380.25 L389.25,380.25 L389.25,381.02 L391.61,381.02 L391.61,380.60 L393.97,380.60 L393.97,380.31 L396.33,380.31 L396.33,379.64 L398.69,379.64 L398.69,380.25 L401.05,380.25 L401.05,380.66 L403.41,380.66 L403.41,380.85 L405.77,380.85 L405.77,381.18 L408.13,381.18 L408.13,381.11 L410.49,381.11 L410.49,380.77 L412.85,380.77 L412.85,380.51 L415.21,380.51 L415.21,379.95 L417.58,379.95 L417.58,379.53 L419.94,379.53 L419.94,379.28 L422.30,379.28 L422.30,379.92 L424.66,379.92 L424.66,380.97 L427.02,380.97 L427.02,382.02 L429.38,382.02 L429.38,382.66 L431.74,382.66 L431.74,382.95 L434.10,382.95 L434.10,382.08 L436.46,382.08 L436.46,381.26 L438.82,381.26 L438.82,381.30 L441.18,381.30 L441.18,381.14 L443.54,381.14 L443.54,382.13 L445.90,382.13 L445.90,381.97 L448.26,381.97 L448.26,382.24 L450.62,382.24 L450.62,381.70 L452.98,381.70 L452.98,381.33 L455.34,381.33 L455.34,380.88 L457.70,380.88 L457.70,380.93 L460.06,380.93 L460.06,381.27 L462.42,381.27 L462.42,381.10 L464.78,381.10 L464.78,381.83 L467.14,381.83 L467.14,382.36 L469.50,382.36 L469.50,381.63 L471.86,381.63 L471.86,381.20 L474.22,381.20 L474.22,380.26 L476.58,380.26 L476.58,381.21 L478.94,381.21 L478.94,380.65 L481.30,380.65 L481.30,380.83 L483.66,380.83" stroke="#000000" stroke-width="1.45"/>
<path d="M257.97,381.09 L260.33,381.09 L260.33,381.09 L262.69,381.09 L262.69,381.09 L265.05,381.09 L265.05,381.09 L267.41,381.09 L267.41,381.09 L269.77,381.09 L269.77,381.09 L272.13,381.09 L272.13,381.09 L274.49,381.09 L274.49,381.09 L276.85,381.09 L276.85,381.09 L279.21,381.09 L279.21,381.09 L281.57,381.09 L281.57,381.09 L283.94,381.09 L283.94,381.09 L286.30,381.09 L286.30,381.09 L288.66,381.09 L288.66,381.09 L291.02,381.09 L291.02,381.09 L293.38,381.09 L293.38,381.09 L295.74,381.09 L295.74,381.09 L298.10,381.09 L298.10,381.09 L300.46,381.09 L300.46,381.09 L302.82,381.09 L302.82,381.09 L305.18,381.09 L305.18,381.09 L307.54,381.09 L307.54,381.09 L309.90,381.09 L309.90,381.09 L312.26,381.09 L312.26,381.09 L314.62,381.09 L314.62,381.09 L316.98,381.09 L316.98,381.09 L319.34,381.09 L319.34,381.09 L321.70,381.09 L321.70,381.09 L324.06,381.09 L324.06,381.09 L326.42,381.09 L326.42,381.09 L328.78,381.09 L328.78,381.09 L331.14,381.09 L331.14,381.09 L333.50,381.09 L333.50,381.09 L335.86,381.09 L335.86,381.09 L338.22,381.09 L338.22,381.09 L340.58,381.09 L340.58,381.09 L342.94,381.09 L342.94,381.09 L345.30,381.09 L345.30,381.09 L347.66,381.09 L347.66,381.09 L350.02,381.09 L350.02,381.09 L352.39,381.09 L352.39,381.09 L354.75,381.09 L354.75,381.09 L357.11,381.09 L357.11,381.07 L359.47,381.07 L359.47,380.95 L361.83,380.95 L361.83,380.39 L364.19,380.39 L364.19,378.42 L366.55,378.42 L366.55,373.49 L368.91,373.49 L368.91,364.82 L371.27,364.82 L371.27,354.91 L373.63,354.91 L373.63,349.43 L375.99,349.43 L375.99,352.31 L378.35,352.31 L378.35,361.43 L380.71,361.43 L380.71,370.99 L383.07,370.99 L383.07,377.19 L385.43,377.19 L385.43,379.96 L387.79,379.96 L387.79,380.84 L390.15,380.84 L390.15,381.05 L392.51,381.05 L392.51,381.08 L394.87,381.08 L394.87,381.09 L397.23,381.09 L397.23,381.09 L399.59,381.09 L399.59,381.09 L401.95,381.09 L401.95,381.09 L404.31,381.09 L404.31,381.09 L406.67,381.09 L406.67,381.09 L409.03,381.09 L409.03,381.09 L411.39,381.09 L411.39,381.09 L413.75,381.09 L413.75,381.09 L416.11,381.09 L416.11,381.09 L418.48,381.09 L418.48,381.09 L420.84,381.09 L420.84,381.09 L423.20,381.09 L423.20,381.09 L425.56,381.09 L425.56,381.09 L427.92,381.09 L427.92,381.09 L430.28,381.09 L430.28,381.09 L432.64,381.09 L432.64,381.09 L435.00,381.09 L435.00,381.09 L437.36,381.09 L437.36,381.09 L439.72,381.09 L439.72,381.09 L442.08,381.09 L442.08,381.09 L444.44,381.09 L444.44,381.09 L446.80,381.09 L446.80,381.09 L449.16,381.09 L449.16,381.09 L451.52,381.09 L451.52,381.09 L453.88,381.09 L453.88,381.09 L456.24,381.09 L456.24,381.09 L458.60,381.09 L458.60,381.09 L460.96,381.09 L460.96,381.09 L463.32,381.09 L463.32,381.09 L465.68,381.09 L465.68,381.09 L468.04,381.09 L468.04,381.09 L470.40,381.09 L470.40,381.09 L472.76,381.09 L472.76,381.09 L475.12,381.09 L475.12,381.09 L477.48,381.09 L477.48,381.09 L479.84,381.09 L479.84,381.09 L482.20,381.09 L482.20,381.09 L484.56,381.09" stroke="#efc35c" stroke-width="1.45"/>
<path d="M257.07,381.09 L259.43,381.09 L259.43,381.09 L261.79,381.09 L261.79,381.09 L264.15,381.09 L264.15,381.09 L266.51,381.09 L266.51,381.09 L268.87,381.09 L268.87,381.09 L271.23,381.09 L271.23,381.09 L273.59,381.09 L273.59,381.09 L275.95,381.09 L275.95,381.09 L278.31,381.09 L278.31,381.09 L280.67,381.09 L280.67,381.09 L283.04,381.09 L283.04,381.09 L285.40,381.09 L285.40,381.09 L287.76,381.09 L287.76,381.09 L290.12,381.09 L290.12,381.09 L292.48,381.09 L292.48,381.09 L294.84,381.09 L294.84,381.09 L297.20,381.09 L297.20,381.09 L299.56,381.09 L299.56,381.09 L301.92,381.09 L301.92,381.09 L304.28,381.09 L304.28,381.09 L306.64,381.09 L306.64,381.09 L309.00,381.09 L309.00,381.09 L311.36,381.09 L311.36,381.09 L313.72,381.09 L313.72,381.09 L316.08,381.09 L316.08,381.09 L318.44,381.09 L318.44,381.09 L320.80,381.09 L320.80,381.09 L323.16,381.09 L323.16,381.09 L325.52,381.09 L325.52,381.09 L327.88,381.09 L327.88,381.09 L330.24,381.09 L330.24,381.09 L332.60,381.09 L332.60,381.09 L334.96,381.09 L334.96,381.09 L337.32,381.09 L337.32,381.09 L339.68,381.09 L339.68,381.09 L342.04,381.09 L342.04,381.09 L344.40,381.09 L344.40,381.09 L346.76,381.09 L346.76,381.09 L349.12,381.09 L349.12,381.09 L351.49,381.09 L351.49,381.09 L353.85,381.09 L353.85,381.06 L356.21,381.06 L356.21,380.89 L358.57,380.89 L358.57,380.14 L360.93,380.14 L360.93,377.90 L363.29,377.90 L363.29,373.60 L365.65,373.60 L365.65,368.90 L368.01,368.90 L368.01,367.31 L370.37,367.31 L370.37,370.27 L372.73,370.27 L372.73,375.20 L375.09,375.20 L375.09,378.86 L377.45,378.86 L377.45,380.50 L379.81,380.50 L379.81,380.98 L382.17,380.98 L382.17,381.08 L384.53,381.08 L384.53,381.09 L386.89,381.09 L386.89,381.09 L389.25,381.09 L389.25,381.09 L391.61,381.09 L391.61,381.09 L393.97,381.09 L393.97,381.09 L396.33,381.09 L396.33,381.09 L398.69,381.09 L398.69,381.09 L401.05,381.09 L401.05,381.09 L403.41,381.09 L403.41,381.09 L405.77,381.09 L405.77,381.09 L408.13,381.09 L408.13,381.09 L410.49,381.09 L410.49,381.09 L412.85,381.09 L412.85,381.09 L415.21,381.09 L415.21,381.09 L417.58,381.09 L417.58,381.09 L419.94,381.09 L419.94,381.09 L422.30,381.09 L422.30,381.09 L424.66,381.09 L424.66,381.09 L427.02,381.09 L427.02,381.09 L429.38,381.09 L429.38,381.09 L431.74,381.09 L431.74,381.09 L434.10,381.09 L434.10,381.09 L436.46,381.09 L436.46,381.09 L438.82,381.09 L438.82,381.09 L441.18,381.09 L441.18,381.09 L443.54,381.09 L443.54,381.09 L445.90,381.09 L445.90,381.09 L448.26,381.09 L448.26,381.09 L450.62,381.09 L450.62,381.09 L452.98,381.09 L452.98,381.09 L455.34,381.09 L455.34,381.09 L457.70,381.09 L457.70,381.09 L460.06,381.09 L460.06,381.09 L462.42,381.09 L462.42,381.09 L464.78,381.09 L464.78,381.09 L467.14,381.09 L467.14,381.09 L469.50,381.09 L469.50,381.09 L471.86,381.09 L471.86,381.09 L474.22,381.09 L474.22,381.09 L476.58,381.09 L476.58,381.09 L478.94,381.09 L478.94,381.09 L481.30,381.09 L481.30,381.09 L483.66,381.09" stroke="#b4cc2a" stroke-width="1.45"/>
<path d="M257.07,381.09 L259.43,381.09 L259.43,381.09 L261.79,381.09 L261.79,381.09 L264.15,381.09 L264.15,381.09 L266.51,381.09 L266.51,381.09 L268.87,381.09 L268.87,381.09 L271.23,381.09 L271.23,381.09 L273.59,381.09 L273.59,381.09 L275.95,381.09 L275.95,381.09 L278.31,381.09 L278.31,381.09 L280.67,381.09 L280.67,381.09 L283.04,381.09 L283.04,381.09 L285.40,381.09 L285.40,381.09 L287.76,381.09 L287.76,381.09 L290.12,381.09 L290.12,381.09 L292.48,381.09 L292.48,381.09 L294.84,381.09 L294.84,381.09 L297.20,381.09 L297.20,381.09 L299.56,381.09 L299.56,381.09 L301.92,381.09 L301.92,381.09 L304.28,381.09 L304.28,381.09 L306.64,381.09 L306.64,381.09 L309.00,381.09 L309.00,381.09 L311.36,381.09 L311.36,381.09 L313.72,381.09 L313.72,381.09 L316.08,381.09 L316.08,381.09 L318.44,381.09 L318.44,381.09 L320.80,381.09 L320.80,381.09 L323.16,381.09 L323.16,381.09 L325.52,381.09 L325.52,381.09 L327.88,381.09 L327.88,381.09 L330.24,381.09 L330.24,381.09 L332.60,381.09 L332.60,381.09 L334.96,381.09 L334.96,381.09 L337.32,381.09 L337.32,381.09 L339.68,381.09 L339.68,381.08 L342.04,381.08 L342.04,381.06 L344.40,381.06 L344.40,380.99 L346.76,380.99 L346.76,380.82 L349.12,380.82 L349.12,380.47 L351.49,380.47 L351.49,379.96 L353.85,379.96 L353.85,379.41 L356.21,379.41 L356.21,379.07 L358.57,379.07 L358.57,379.14 L360.93,379.14 L360.93,379.57 L363.29,379.57 L363.29,380.13 L365.65,380.13 L365.65,380.60 L368.01,380.60 L368.01,380.89 L370.37,380.89 L370.37,381.02 L372.73,381.02 L372.73,381.07 L375.09,381.07 L375.09,381.08 L377.45,381.08 L377.45,381.09 L379.81,381.09 L379.81,381.09 L382.17,381.09 L382.17,381.09 L384.53,381.09 L384.53,381.09 L386.89,381.09 L386.89,381.09 L389.25,381.09 L389.25,381.09 L391.61,381.09 L391.61,381.09 L393.97,381.09 L393.97,381.09 L396.33,381.09 L396.33,381.09 L398.69,381.09 L398.69,381.09 L401.05,381.09 L401.05,381.09 L403.41,381.09 L403.41,381.09 L405.77,381.09 L405.77,381.09 L408.13,381.09 L408.13,381.09 L410.49,381.09 L410.49,381.09 L412.85,381.09 L412.85,381.09 L415.21,381.09 L415.21,381.09 L417.58,381.09 L417.58,381.09 L419.94,381.09 L419.94,381.09 L422.30,381.09 L422.30,381.09 L424.66,381.09 L424.66,381.09 L427.02,381.09 L427.02,381.09 L429.38,381.09 L429.38,381.09 L431.74,381.09 L431.74,381.09 L434.10,381.09 L434.10,381.09 L436.46,381.09 L436.46,381.09 L438.82,381.09 L438.82,381.09 L441.18,381.09 L441.18,381.09 L443.54,381.09 L443.54,381.09 L445.90,381.09 L445.90,381.09 L448.26,381.09 L448.26,381.09 L450.62,381.09 L450.62,381.09 L452.98,381.09 L452.98,381.09 L455.34,381.09 L455.34,381.09 L457.70,381.09 L457.70,381.09 L460.06,381.09 L460.06,381.09 L462.42,381.09 L462.42,381.09 L464.78,381.09 L464.78,381.09 L467.14,381.09 L467.14,381.09 L469.50,381.09 L469.50,381.09 L471.86,381.09 L471.86,381.09 L474.22,381.09 L474.22,381.09 L476.58,381.09 L476.58,381.09 L478.94,381.09 L478.94,381.09 L481.30,381.09 L481.30,381.09 L483.66,381.09" stroke="#b8860b" stroke-width="1.45"/>
<path d="M257.07,381.09 L259.43,381.09 L259.43,381.09 L261.79,381.09 L261.79,381.09 L264.15,381.09 L264.15,381.09 L266.51,381.09 L266.51,381.09 L268.87,381.09 L268.87,381.09 L271.23,381.09 L271.23,381.09 L273.59,381.09 L273.59,381.09 L275.95,381.09 L275.95,381.09 L278.31,381.09 L278.31,381.09 L280.67,381.09 L280.67,381.09 L283.04,381.09 L283.04,381.09 L285.40,381.09 L285.40,381.09 L287.76,381.09 L287.76,381.09 L290.12,381.09 L290.12,381.09 L292.48,381.09 L292.48,381.09 L294.84,381.09 L294.84,381.09 L297.20,381.09 L297.20,381.09 L299.56,381.09 L299.56,381.09 L301.92,381.09 L301.92,381.09 L304.28,381.09 L304.28,381.09 L306.64,381.09 L306.64,381.09 L309.00,381.09 L309.00,381.09 L311.36,381.09 L311.36,381.09 L313.72,381.09 L313.72,381.09 L316.08,381.09 L316.08,381.09 L318.44,381.09 L318.44,381.09 L320.80,381.09 L320.80,381.09 L323.16,381.09 L323.16,381.09 L325.52,381.09 L325.52,381.09 L327.88,381.09 L327.88,381.09 L330.24,381.09 L330.24,381.09 L332.60,381.09 L332.60,381.09 L334.96,381.09 L334.96,381.09 L337.32,381.09 L337.32,381.09 L339.68,381.09 L339.68,381.09 L342.04,381.09 L342.04,381.06 L344.40,381.06 L344.40,380.94 L346.76,380.94 L346.76,380.45 L349.12,380.45 L349.12,379.24 L351.49,379.24 L351.49,377.44 L353.85,377.44 L353.85,376.17 L356.21,376.17 L356.21,376.56 L358.57,376.56 L358.57,378.24 L360.93,378.24 L360.93,379.86 L363.29,379.86 L363.29,380.73 L365.65,380.73 L365.65,381.02 L368.01,381.02 L368.01,381.08 L370.37,381.08 L370.37,381.09 L372.73,381.09 L372.73,381.09 L375.09,381.09 L375.09,381.09 L377.45,381.09 L377.45,381.09 L379.81,381.09 L379.81,381.09 L382.17,381.09 L382.17,381.09 L384.53,381.09 L384.53,381.09 L386.89,381.09 L386.89,381.09 L389.25,381.09 L389.25,381.09 L391.61,381.09 L391.61,381.09 L393.97,381.09 L393.97,381.09 L396.33,381.09 L396.33,381.09 L398.69,381.09 L398.69,381.09 L401.05,381.09 L401.05,381.09 L403.41,381.09 L403.41,381.09 L405.77,381.09 L405.77,381.09 L408.13,381.09 L408.13,381.09 L410.49,381.09 L410.49,381.09 L412.85,381.09 L412.85,381.09 L415.21,381.09 L415.21,381.09 L417.58,381.09 L417.58,381.09 L419.94,381.09 L419.94,381.09 L422.30,381.09 L422.30,381.09 L424.66,381.09 L424.66,381.09 L427.02,381.09 L427.02,381.09 L429.38,381.09 L429.38,381.09 L431.74,381.09 L431.74,381.09 L434.10,381.09 L434.10,381.09 L436.46,381.09 L436.46,381.09 L438.82,381.09 L438.82,381.09 L441.18,381.09 L441.18,381.09 L443.54,381.09 L443.54,381.09 L445.90,381.09 L445.90,381.09 L448.26,381.09 L448.26,381.09 L450.62,381.09 L450.62,381.09 L452.98,381.09 L452.98,381.09 L455.34,381.09 L455.34,381.09 L457.70,381.09 L457.70,381.09 L460.06,381.09 L460.06,381.09 L462.42,381.09 L462.42,381.09 L464.78,381.09 L464.78,381.09 L467.14,381.09 L467.14,381.09 L469.50,381.09 L469.50,381.09 L471.86,381.09 L471.86,381.09 L474.22,381.09 L474.22,381.09 L476.58,381.09 L476.58,381.09 L478.94,381.09 L478.94,381.09 L481.30,381.09 L481.30,381.09 L483.66,381.09" stroke="#4b8fd8" stroke-width="1.45"/>
<path d="M257.07,381.09 L259.43,381.09 L259.43,381.09 L261.79,381.09 L261.79,381.09 L264.15,381.09 L264.15,381.09 L266.51,381.09 L266.51,381.09 L268.87,381.09 L268.87,381.09 L271.23,381.09 L271.23,381.09 L273.59,381.09 L273.59,381.09 L275.95,381.09 L275.95,381.09 L278.31,381.09 L278.31,381.09 L280.67,381.09 L280.67,381.09 L283.04,381.09 L283.04,381.09 L285.40,381.09 L285.40,381.09 L287.76,381.09 L287.76,381.09 L290.12,381.09 L290.12,381.09 L292.48,381.09 L292.48,381.09 L294.84,381.09 L294.84,381.09 L297.20,381.09 L297.20,381.09 L299.56,381.09 L299.56,381.09 L301.92,381.09 L301.92,381.09 L304.28,381.09 L304.28,381.09 L306.64,381.09 L306.64,381.09 L309.00,381.09 L309.00,381.09 L311.36,381.09 L311.36,381.09 L313.72,381.09 L313.72,381.09 L316.08,381.09 L316.08,381.09 L318.44,381.09 L318.44,381.09 L320.80,381.09 L320.80,381.09 L323.16,381.09 L323.16,381.09 L325.52,381.09 L325.52,381.09 L327.88,381.09 L327.88,381.09 L330.24,381.09 L330.24,381.09 L332.60,381.09 L332.60,381.09 L334.96,381.09 L334.96,381.09 L337.32,381.09 L337.32,381.09 L339.68,381.09 L339.68,381.09 L342.04,381.09 L342.04,381.09 L344.40,381.09 L344.40,379.73 L346.76,379.73 L346.76,378.14 L349.12,378.14 L349.12,376.32 L351.49,376.32 L351.49,374.50 L353.85,374.50 L353.85,374.05 L356.21,374.05 L356.21,374.28 L358.57,374.28 L358.57,374.50 L360.93,374.50 L360.93,373.37 L363.29,373.37 L363.29,369.96 L365.65,369.96 L365.65,364.74 L368.01,364.74 L368.01,359.06 L370.37,359.06 L370.37,353.16 L372.73,353.16 L372.73,347.03 L375.09,347.03 L375.09,347.26 L377.45,347.26 L377.45,355.66 L379.81,355.66 L379.81,366.56 L382.17,366.56 L382.17,375.19 L384.53,375.19 L384.53,379.05 L386.89,379.05 L386.89,380.41 L389.25,380.41 L389.25,381.09 L391.61,381.09 L391.61,381.09 L393.97,381.09 L393.97,381.09 L396.33,381.09 L396.33,381.09 L398.69,381.09 L398.69,381.09 L401.05,381.09 L401.05,381.09 L403.41,381.09 L403.41,381.09 L405.77,381.09 L405.77,381.09 L408.13,381.09 L408.13,381.09 L410.49,381.09 L410.49,381.09 L412.85,381.09 L412.85,381.09 L415.21,381.09 L415.21,381.09 L417.58,381.09 L417.58,381.09 L419.94,381.09 L419.94,381.09 L422.30,381.09 L422.30,381.09 L424.66,381.09 L424.66,381.09 L427.02,381.09 L427.02,381.09 L429.38,381.09 L429.38,381.09 L431.74,381.09 L431.74,381.09 L434.10,381.09 L434.10,381.09 L436.46,381.09 L436.46,381.09 L438.82,381.09 L438.82,381.09 L441.18,381.09 L441.18,381.09 L443.54,381.09 L443.54,381.09 L445.90,381.09 L445.90,381.09 L448.26,381.09 L448.26,381.09 L450.62,381.09 L450.62,381.09 L452.98,381.09 L452.98,381.09 L455.34,381.09 L455.34,381.09 L457.70,381.09 L457.70,381.09 L460.06,381.09 L460.06,381.09 L462.42,381.09 L462.42,381.09 L464.78,381.09 L464.78,381.09 L467.14,381.09 L467.14,381.09 L469.50,381.09 L469.50,381.09 L471.86,381.09 L471.86,381.09 L474.22,381.09 L474.22,381.09 L476.58,381.09 L476.58,381.09 L478.94,381.09 L478.94,381.09 L481.30,381.09 L481.30,381.09 L483.66,381.09" stroke="#c62a2c" stroke-width="1.45"/>
</g>
<rect x="261.05" y="199.45" width="217.00" height="188.45" fill="none" stroke="#000" stroke-width="0.75"/>
<path d="M315.30,387.90 V382.40 M369.55,387.90 V382.40 M423.80,387.90 V382.40 M261.05,381.09 H266.55 M261.05,335.68 H266.55 M261.05,290.27 H266.55 M261.05,244.86 H266.55 M261.05,199.45 H266.55" stroke="#000" stroke-width="0.75" fill="none"/>
<g font-family="Liberation Sans, sans-serif" font-size="12.3" fill="#000" stroke="#000" stroke-width="0.18"><text x="271.65" y="217.65">C</text>
<text x="280.45" y="219.55" font-size="9">4</text>
<text x="285.75" y="217.65">H</text>
<text x="374.65" y="217.95" textLength="93" lengthAdjust="spacingAndGlyphs">9551.5356 MHz</text>
<text x="271.55" y="236.55" font-style="italic">N</text>
<path d="M284.25,231.25 h7.30 M284.25,234.25 h7.30" stroke="#000" stroke-width="1.1" fill="none"/>
<text x="295.65" y="236.55">1</text>
<path d="M305.65,232.95 H313.15" stroke="#000" stroke-width="1.1" fill="none"/><path d="M314.35,232.95 L311.35,230.45 L312.35,232.95 L311.35,235.45 Z" fill="#000"/>
<text x="317.45" y="236.55">0</text>
<path d="M274.80,241.75 L273.50,249.45 Q273.05,251.75 270.65,251.85" stroke="#000" stroke-width="1.3" fill="none"/>
<path d="M278.55,244.55 h7.60 M278.55,247.55 h7.60" stroke="#000" stroke-width="1.1" fill="none"/>
<text x="289.85" y="249.85">1/2</text>
<path d="M311.15,246.25 H318.85" stroke="#000" stroke-width="1.1" fill="none"/><path d="M320.05,246.25 L317.05,243.75 L318.05,246.25 L317.05,248.75 Z" fill="#000"/>
<text x="323.65" y="249.85">1/2</text>
<text x="271.55" y="263.45" font-style="italic">F</text>
<path d="M282.15,258.15 h7.30 M282.15,261.15 h7.30" stroke="#000" stroke-width="1.1" fill="none"/>
<text x="293.65" y="263.45">0</text>
<path d="M303.55,259.85 H311.15" stroke="#000" stroke-width="1.1" fill="none"/><path d="M312.35,259.85 L309.35,257.35 L310.35,259.85 L309.35,262.35 Z" fill="#000"/>
<text x="315.35" y="263.45">1</text></g>
<clipPath id="c5"><rect x="483.93" y="199.45" width="217.00" height="188.45"/></clipPath>
<g clip-path="url(#c5)" fill="none" stroke-linejoin="miter">
<path d="M480.19,380.69 L482.52,380.69 L482.52,380.92 L484.85,380.92 L484.85,381.38 L487.18,381.38 L487.18,381.60 L489.50,381.60 L489.50,381.41 L491.83,381.41 L491.83,382.12 L494.16,382.12 L494.16,383.18 L496.49,383.18 L496.49,382.91 L498.81,382.91 L498.81,383.61 L501.14,383.61 L501.14,383.14 L503.47,383.14 L503.47,383.22 L505.80,383.22 L505.80,381.82 L508.12,381.82 L508.12,382.09 L510.45,382.09 L510.45,381.25 L512.78,381.25 L512.78,380.61 L515.11,380.61 L515.11,380.75 L517.43,380.75 L517.43,380.70 L519.76,380.70 L519.76,381.05 L522.09,381.05 L522.09,381.11 L524.42,381.11 L524.42,380.95 L526.74,380.95 L526.74,381.76 L529.07,381.76 L529.07,381.18 L531.40,381.18 L531.40,380.41 L533.73,380.41 L533.73,380.93 L536.05,380.93 L536.05,380.52 L538.38,380.52 L538.38,380.64 L540.71,380.64 L540.71,381.22 L543.04,381.22 L543.04,381.36 L545.36,381.36 L545.36,381.11 L547.69,381.11 L547.69,381.38 L550.02,381.38 L550.02,380.99 L552.35,380.99 L552.35,380.83 L554.67,380.83 L554.67,381.36 L557.00,381.36 L557.00,381.38 L559.33,381.38 L559.33,381.10 L561.66,381.10 L561.66,381.33 L563.98,381.33 L563.98,381.27 L566.31,381.27 L566.31,379.96 L568.64,379.96 L568.64,378.14 L570.97,378.14 L570.97,376.24 L573.29,376.24 L573.29,373.87 L575.62,373.87 L575.62,368.60 L577.95,368.60 L577.95,368.60 L580.28,368.60 L580.28,368.60 L582.60,368.60 L582.60,368.60 L584.93,368.60 L584.93,366.10 L587.26,366.10 L587.26,360.88 L589.59,360.88 L589.59,350.66 L591.91,350.66 L591.91,337.72 L594.24,337.72 L594.24,326.60 L596.57,326.60 L596.57,323.65 L598.89,323.65 L598.89,330.91 L601.22,330.91 L601.22,347.71 L603.55,347.71 L603.55,358.68 L605.88,358.68 L605.88,375.87 L608.20,375.87 L608.20,378.22 L610.53,378.22 L610.53,380.25 L612.86,380.25 L612.86,380.99 L615.19,380.99 L615.19,381.32 L617.51,381.32 L617.51,380.47 L619.84,380.47 L619.84,380.04 L622.17,380.04 L622.17,379.10 L624.50,379.10 L624.50,379.28 L626.82,379.28 L626.82,379.36 L629.15,379.36 L629.15,379.40 L631.48,379.40 L631.48,379.81 L633.81,379.81 L633.81,380.06 L636.13,380.06 L636.13,380.52 L638.46,380.52 L638.46,380.85 L640.79,380.85 L640.79,381.58 L643.12,381.58 L643.12,381.84 L645.44,381.84 L645.44,381.74 L647.77,381.74 L647.77,382.48 L650.10,382.48 L650.10,382.53 L652.43,382.53 L652.43,382.56 L654.75,382.56 L654.75,380.95 L657.08,380.95 L657.08,380.11 L659.41,380.11 L659.41,379.96 L661.74,379.96 L661.74,380.45 L664.06,380.45 L664.06,381.59 L666.39,381.59 L666.39,381.82 L668.72,381.82 L668.72,382.59 L671.05,382.59 L671.05,382.89 L673.37,382.89 L673.37,383.20 L675.70,383.20 L675.70,383.79 L678.03,383.79 L678.03,382.66 L680.36,382.66 L680.36,381.21 L682.68,381.21 L682.68,379.84 L685.01,379.84 L685.01,379.65 L687.34,379.65 L687.34,379.39 L689.67,379.39 L689.67,380.14 L691.99,380.14 L691.99,381.03 L694.32,381.03 L694.32,380.93 L696.65,380.93 L696.65,381.49 L698.98,381.49 L698.98,381.43 L701.30,381.43 L701.30,380.51 L703.63,380.51 L703.63,380.53 L705.96,380.53 L705.96,380.86 L708.29,380.86" stroke="#000000" stroke-width="1.45"/>
<path d="M481.09,381.09 L483.42,381.09 L483.42,381.09 L485.75,381.09 L485.75,381.09 L488.08,381.09 L488.08,381.09 L490.40,381.09 L490.40,381.09 L492.73,381.09 L492.73,381.09 L495.06,381.09 L495.06,381.09 L497.39,381.09 L497.39,381.09 L499.71,381.09 L499.71,381.09 L502.04,381.09 L502.04,381.09 L504.37,381.09 L504.37,381.09 L506.70,381.09 L506.70,381.09 L509.02,381.09 L509.02,381.09 L511.35,381.09 L511.35,381.09 L513.68,381.09 L513.68,381.09 L516.01,381.09 L516.01,381.09 L518.33,381.09 L518.33,381.09 L520.66,381.09 L520.66,381.09 L522.99,381.09 L522.99,381.09 L525.32,381.09 L525.32,381.09 L527.64,381.09 L527.64,381.09 L529.97,381.09 L529.97,381.09 L532.30,381.09 L532.30,381.09 L534.63,381.09 L534.63,381.09 L536.95,381.09 L536.95,381.09 L539.28,381.09 L539.28,381.09 L541.61,381.09 L541.61,381.09 L543.94,381.09 L543.94,381.09 L546.26,381.09 L546.26,381.09 L548.59,381.09 L548.59,381.09 L550.92,381.09 L550.92,381.09 L553.25,381.09 L553.25,381.09 L555.57,381.09 L555.57,381.09 L557.90,381.09 L557.90,381.09 L560.23,381.09 L560.23,381.09 L562.56,381.09 L562.56,381.09 L564.88,381.09 L564.88,381.09 L567.21,381.09 L567.21,381.09 L569.54,381.09 L569.54,381.09 L571.87,381.09 L571.87,381.09 L574.19,381.09 L574.19,381.09 L576.52,381.09 L576.52,381.09 L578.85,381.09 L578.85,381.08 L581.18,381.08 L581.18,381.05 L583.50,381.05 L583.50,380.81 L585.83,380.81 L585.83,379.76 L588.16,379.76 L588.16,376.25 L590.49,376.25 L590.49,367.74 L592.81,367.74 L592.81,353.15 L595.14,353.15 L595.14,336.80 L597.47,336.80 L597.47,327.92 L599.79,327.92 L599.79,332.73 L602.12,332.73 L602.12,347.77 L604.45,347.77 L604.45,363.70 L606.78,363.70 L606.78,374.21 L609.10,374.21 L609.10,379.03 L611.43,379.03 L611.43,380.62 L613.76,380.62 L613.76,381.01 L616.09,381.01 L616.09,381.08 L618.41,381.08 L618.41,381.09 L620.74,381.09 L620.74,381.09 L623.07,381.09 L623.07,381.09 L625.40,381.09 L625.40,381.09 L627.72,381.09 L627.72,381.09 L630.05,381.09 L630.05,381.09 L632.38,381.09 L632.38,381.09 L634.71,381.09 L634.71,381.09 L637.03,381.09 L637.03,381.09 L639.36,381.09 L639.36,381.09 L641.69,381.09 L641.69,381.09 L644.02,381.09 L644.02,381.09 L646.34,381.09 L646.34,381.09 L648.67,381.09 L648.67,381.09 L651.00,381.09 L651.00,381.09 L653.33,381.09 L653.33,381.09 L655.65,381.09 L655.65,381.09 L657.98,381.09 L657.98,381.09 L660.31,381.09 L660.31,381.09 L662.64,381.09 L662.64,381.09 L664.96,381.09 L664.96,381.09 L667.29,381.09 L667.29,381.09 L669.62,381.09 L669.62,381.09 L671.95,381.09 L671.95,381.09 L674.27,381.09 L674.27,381.09 L676.60,381.09 L676.60,381.09 L678.93,381.09 L678.93,381.09 L681.26,381.09 L681.26,381.09 L683.58,381.09 L683.58,381.09 L685.91,381.09 L685.91,381.09 L688.24,381.09 L688.24,381.09 L690.57,381.09 L690.57,381.09 L692.89,381.09 L692.89,381.09 L695.22,381.09 L695.22,381.09 L697.55,381.09 L697.55,381.09 L699.88,381.09 L699.88,381.09 L702.20,381.09 L702.20,381.09 L704.53,381.09 L704.53,381.09 L706.86,381.09 L706.86,381.09 L709.19,381.09" stroke="#efc35c" stroke-width="1.45"/>
<path d="M480.19,381.09 L482.52,381.09 L482.52,381.09 L484.85,381.09 L484.85,381.09 L487.18,381.09 L487.18,381.09 L489.50,381.09 L489.50,381.09 L491.83,381.09 L491.83,381.09 L494.16,381.09 L494.16,381.09 L496.49,381.09 L496.49,381.09 L498.81,381.09 L498.81,381.09 L501.14,381.09 L501.14,381.09 L503.47,381.09 L503.47,381.09 L505.80,381.09 L505.80,381.09 L508.12,381.09 L508.12,381.09 L510.45,381.09 L510.45,381.09 L512.78,381.09 L512.78,381.09 L515.11,381.09 L515.11,381.09 L517.43,381.09 L517.43,381.09 L519.76,381.09 L519.76,381.09 L522.09,381.09 L522.09,381.09 L524.42,381.09 L524.42,381.09 L526.74,381.09 L526.74,381.09 L529.07,381.09 L529.07,381.09 L531.40,381.09 L531.40,381.09 L533.73,381.09 L533.73,381.09 L536.05,381.09 L536.05,381.09 L538.38,381.09 L538.38,381.09 L540.71,381.09 L540.71,381.09 L543.04,381.09 L543.04,381.09 L545.36,381.09 L545.36,381.09 L547.69,381.09 L547.69,381.09 L550.02,381.09 L550.02,381.09 L552.35,381.09 L552.35,381.09 L554.67,381.09 L554.67,381.09 L557.00,381.09 L557.00,381.09 L559.33,381.09 L559.33,381.09 L561.66,381.09 L561.66,381.09 L563.98,381.09 L563.98,381.09 L566.31,381.09 L566.31,381.09 L568.64,381.09 L568.64,381.09 L570.97,381.09 L570.97,381.09 L573.29,381.09 L573.29,381.09 L575.62,381.09 L575.62,381.08 L577.95,381.08 L577.95,381.01 L580.28,381.01 L580.28,380.56 L582.60,380.56 L582.60,378.75 L584.93,378.75 L584.93,374.00 L587.26,374.00 L587.26,366.23 L589.59,366.23 L589.59,359.61 L591.91,359.61 L591.91,359.65 L594.24,359.65 L594.24,366.32 L596.57,366.32 L596.57,374.07 L598.89,374.07 L598.89,378.79 L601.22,378.79 L601.22,380.57 L603.55,380.57 L603.55,381.01 L605.88,381.01 L605.88,381.08 L608.20,381.08 L608.20,381.09 L610.53,381.09 L610.53,381.09 L612.86,381.09 L612.86,381.09 L615.19,381.09 L615.19,381.09 L617.51,381.09 L617.51,381.09 L619.84,381.09 L619.84,381.09 L622.17,381.09 L622.17,381.09 L624.50,381.09 L624.50,381.09 L626.82,381.09 L626.82,381.09 L629.15,381.09 L629.15,381.09 L631.48,381.09 L631.48,381.09 L633.81,381.09 L633.81,381.09 L636.13,381.09 L636.13,381.09 L638.46,381.09 L638.46,381.09 L640.79,381.09 L640.79,381.09 L643.12,381.09 L643.12,381.09 L645.44,381.09 L645.44,381.09 L647.77,381.09 L647.77,381.09 L650.10,381.09 L650.10,381.09 L652.43,381.09 L652.43,381.09 L654.75,381.09 L654.75,381.09 L657.08,381.09 L657.08,381.09 L659.41,381.09 L659.41,381.09 L661.74,381.09 L661.74,381.09 L664.06,381.09 L664.06,381.09 L666.39,381.09 L666.39,381.09 L668.72,381.09 L668.72,381.09 L671.05,381.09 L671.05,381.09 L673.37,381.09 L673.37,381.09 L675.70,381.09 L675.70,381.09 L678.03,381.09 L678.03,381.09 L680.36,381.09 L680.36,381.09 L682.68,381.09 L682.68,381.09 L685.01,381.09 L685.01,381.09 L687.34,381.09 L687.34,381.09 L689.67,381.09 L689.67,381.09 L691.99,381.09 L691.99,381.09 L694.32,381.09 L694.32,381.09 L696.65,381.09 L696.65,381.09 L698.98,381.09 L698.98,381.09 L701.30,381.09 L701.30,381.09 L703.63,381.09 L703.63,381.09 L705.96,381.09 L705.96,381.09 L708.29,381.09" stroke="#b4cc2a" stroke-width="1.45"/>
<path d="M480.19,381.09 L482.52,381.09 L482.52,381.09 L484.85,381.09 L484.85,381.09 L487.18,381.09 L487.18,381.09 L489.50,381.09 L489.50,381.09 L491.83,381.09 L491.83,381.09 L494.16,381.09 L494.16,381.09 L496.49,381.09 L496.49,381.09 L498.81,381.09 L498.81,381.09 L501.14,381.09 L501.14,381.09 L503.47,381.09 L503.47,381.09 L505.80,381.09 L505.80,381.09 L508.12,381.09 L508.12,381.09 L510.45,381.09 L510.45,381.09 L512.78,381.09 L512.78,381.09 L515.11,381.09 L515.11,381.09 L517.43,381.09 L517.43,381.09 L519.76,381.09 L519.76,381.09 L522.09,381.09 L522.09,381.09 L524.42,381.09 L524.42,381.09 L526.74,381.09 L526.74,381.09 L529.07,381.09 L529.07,381.09 L531.40,381.09 L531.40,381.09 L533.73,381.09 L533.73,381.09 L536.05,381.09 L536.05,381.09 L538.38,381.09 L538.38,381.09 L540.71,381.09 L540.71,381.09 L543.04,381.09 L543.04,381.09 L545.36,381.09 L545.36,381.09 L547.69,381.09 L547.69,381.09 L550.02,381.09 L550.02,381.09 L552.35,381.09 L552.35,381.09 L554.67,381.09 L554.67,381.09 L557.00,381.09 L557.00,381.09 L559.33,381.09 L559.33,381.09 L561.66,381.09 L561.66,381.09 L563.98,381.09 L563.98,381.08 L566.31,381.08 L566.31,381.03 L568.64,381.03 L568.64,380.91 L570.97,380.91 L570.97,380.60 L573.29,380.60 L573.29,380.03 L575.62,380.03 L575.62,379.21 L577.95,379.21 L577.95,378.38 L580.28,378.38 L580.28,377.93 L582.60,377.93 L582.60,378.10 L584.93,378.10 L584.93,378.79 L587.26,378.79 L587.26,379.65 L589.59,379.65 L589.59,380.36 L591.91,380.36 L591.91,380.79 L594.24,380.79 L594.24,380.99 L596.57,380.99 L596.57,381.06 L598.89,381.06 L598.89,381.08 L601.22,381.08 L601.22,381.09 L603.55,381.09 L603.55,381.09 L605.88,381.09 L605.88,381.09 L608.20,381.09 L608.20,381.09 L610.53,381.09 L610.53,381.09 L612.86,381.09 L612.86,381.09 L615.19,381.09 L615.19,381.09 L617.51,381.09 L617.51,381.09 L619.84,381.09 L619.84,381.09 L622.17,381.09 L622.17,381.09 L624.50,381.09 L624.50,381.09 L626.82,381.09 L626.82,381.09 L629.15,381.09 L629.15,381.09 L631.48,381.09 L631.48,381.09 L633.81,381.09 L633.81,381.09 L636.13,381.09 L636.13,381.09 L638.46,381.09 L638.46,381.09 L640.79,381.09 L640.79,381.09 L643.12,381.09 L643.12,381.09 L645.44,381.09 L645.44,381.09 L647.77,381.09 L647.77,381.09 L650.10,381.09 L650.10,381.09 L652.43,381.09 L652.43,381.09 L654.75,381.09 L654.75,381.09 L657.08,381.09 L657.08,381.09 L659.41,381.09 L659.41,381.09 L661.74,381.09 L661.74,381.09 L664.06,381.09 L664.06,381.09 L666.39,381.09 L666.39,381.09 L668.72,381.09 L668.72,381.09 L671.05,381.09 L671.05,381.09 L673.37,381.09 L673.37,381.09 L675.70,381.09 L675.70,381.09 L678.03,381.09 L678.03,381.09 L680.36,381.09 L680.36,381.09 L682.68,381.09 L682.68,381.09 L685.01,381.09 L685.01,381.09 L687.34,381.09 L687.34,381.09 L689.67,381.09 L689.67,381.09 L691.99,381.09 L691.99,381.09 L694.32,381.09 L694.32,381.09 L696.65,381.09 L696.65,381.09 L698.98,381.09 L698.98,381.09 L701.30,381.09 L701.30,381.09 L703.63,381.09 L703.63,381.09 L705.96,381.09 L705.96,381.09 L708.29,381.09" stroke="#b8860b" stroke-width="1.45"/>
<path d="M480.19,381.09 L482.52,381.09 L482.52,381.09 L484.85,381.09 L484.85,381.09 L487.18,381.09 L487.18,381.09 L489.50,381.09 L489.50,381.09 L491.83,381.09 L491.83,381.09 L494.16,381.09 L494.16,381.09 L496.49,381.09 L496.49,381.09 L498.81,381.09 L498.81,381.09 L501.14,381.09 L501.14,381.09 L503.47,381.09 L503.47,381.09 L505.80,381.09 L505.80,381.09 L508.12,381.09 L508.12,381.09 L510.45,381.09 L510.45,381.09 L512.78,381.09 L512.78,381.09 L515.11,381.09 L515.11,381.09 L517.43,381.09 L517.43,381.09 L519.76,381.09 L519.76,381.09 L522.09,381.09 L522.09,381.09 L524.42,381.09 L524.42,381.09 L526.74,381.09 L526.74,381.09 L529.07,381.09 L529.07,381.09 L531.40,381.09 L531.40,381.09 L533.73,381.09 L533.73,381.09 L536.05,381.09 L536.05,381.09 L538.38,381.09 L538.38,381.09 L540.71,381.09 L540.71,381.09 L543.04,381.09 L543.04,381.09 L545.36,381.09 L545.36,381.09 L547.69,381.09 L547.69,381.09 L550.02,381.09 L550.02,381.09 L552.35,381.09 L552.35,381.09 L554.67,381.09 L554.67,381.09 L557.00,381.09 L557.00,381.09 L559.33,381.09 L559.33,381.09 L561.66,381.09 L561.66,381.09 L563.98,381.09 L563.98,381.06 L566.31,381.06 L566.31,380.85 L568.64,380.85 L568.64,379.91 L570.97,379.91 L570.97,377.33 L573.29,377.33 L573.29,373.44 L575.62,373.44 L575.62,371.12 L577.95,371.12 L577.95,372.78 L580.28,372.78 L580.28,376.66 L582.60,376.66 L582.60,379.58 L584.93,379.58 L584.93,380.76 L587.26,380.76 L587.26,381.04 L589.59,381.04 L589.59,381.08 L591.91,381.08 L591.91,381.09 L594.24,381.09 L594.24,381.09 L596.57,381.09 L596.57,381.09 L598.89,381.09 L598.89,381.09 L601.22,381.09 L601.22,381.09 L603.55,381.09 L603.55,381.09 L605.88,381.09 L605.88,381.09 L608.20,381.09 L608.20,381.09 L610.53,381.09 L610.53,381.09 L612.86,381.09 L612.86,381.09 L615.19,381.09 L615.19,381.09 L617.51,381.09 L617.51,381.09 L619.84,381.09 L619.84,381.09 L622.17,381.09 L622.17,381.09 L624.50,381.09 L624.50,381.09 L626.82,381.09 L626.82,381.09 L629.15,381.09 L629.15,381.09 L631.48,381.09 L631.48,381.09 L633.81,381.09 L633.81,381.09 L636.13,381.09 L636.13,381.09 L638.46,381.09 L638.46,381.09 L640.79,381.09 L640.79,381.09 L643.12,381.09 L643.12,381.09 L645.44,381.09 L645.44,381.09 L647.77,381.09 L647.77,381.09 L650.10,381.09 L650.10,381.09 L652.43,381.09 L652.43,381.09 L654.75,381.09 L654.75,381.09 L657.08,381.09 L657.08,381.09 L659.41,381.09 L659.41,381.09 L661.74,381.09 L661.74,381.09 L664.06,381.09 L664.06,381.09 L666.39,381.09 L666.39,381.09 L668.72,381.09 L668.72,381.09 L671.05,381.09 L671.05,381.09 L673.37,381.09 L673.37,381.09 L675.70,381.09 L675.70,381.09 L678.03,381.09 L678.03,381.09 L680.36,381.09 L680.36,381.09 L682.68,381.09 L682.68,381.09 L685.01,381.09 L685.01,381.09 L687.34,381.09 L687.34,381.09 L689.67,381.09 L689.67,381.09 L691.99,381.09 L691.99,381.09 L694.32,381.09 L694.32,381.09 L696.65,381.09 L696.65,381.09 L698.98,381.09 L698.98,381.09 L701.30,381.09 L701.30,381.09 L703.63,381.09 L703.63,381.09 L705.96,381.09 L705.96,381.09 L708.29,381.09" stroke="#4b8fd8" stroke-width="1.45"/>
<path d="M480.19,381.09 L482.52,381.09 L482.52,381.09 L484.85,381.09 L484.85,381.09 L487.18,381.09 L487.18,381.09 L489.50,381.09 L489.50,381.09 L491.83,381.09 L491.83,381.09 L494.16,381.09 L494.16,381.09 L496.49,381.09 L496.49,381.09 L498.81,381.09 L498.81,381.09 L501.14,381.09 L501.14,381.09 L503.47,381.09 L503.47,381.09 L505.80,381.09 L505.80,381.09 L508.12,381.09 L508.12,381.09 L510.45,381.09 L510.45,381.09 L512.78,381.09 L512.78,381.09 L515.11,381.09 L515.11,381.09 L517.43,381.09 L517.43,381.09 L519.76,381.09 L519.76,381.09 L522.09,381.09 L522.09,381.09 L524.42,381.09 L524.42,381.09 L526.74,381.09 L526.74,381.09 L529.07,381.09 L529.07,381.09 L531.40,381.09 L531.40,381.09 L533.73,381.09 L533.73,381.09 L536.05,381.09 L536.05,381.09 L538.38,381.09 L538.38,381.09 L540.71,381.09 L540.71,381.09 L543.04,381.09 L543.04,381.09 L545.36,381.09 L545.36,381.09 L547.69,381.09 L547.69,381.09 L550.02,381.09 L550.02,381.09 L552.35,381.09 L552.35,381.09 L554.67,381.09 L554.67,381.09 L557.00,381.09 L557.00,381.09 L559.33,381.09 L559.33,381.09 L561.66,381.09 L561.66,381.09 L563.98,381.09 L563.98,381.09 L566.31,381.09 L566.31,379.73 L568.64,379.73 L568.64,377.91 L570.97,377.91 L570.97,375.64 L573.29,375.64 L573.29,373.14 L575.62,373.14 L575.62,370.87 L577.95,370.87 L577.95,370.42 L580.28,370.42 L580.28,370.42 L582.60,370.42 L582.60,370.64 L584.93,370.64 L584.93,366.33 L587.26,366.33 L587.26,361.11 L589.59,361.11 L589.59,352.48 L591.91,352.48 L591.91,343.40 L594.24,343.40 L594.24,333.41 L596.57,333.41 L596.57,325.69 L598.89,325.69 L598.89,326.60 L601.22,326.60 L601.22,340.67 L603.55,340.67 L603.55,358.61 L605.88,358.61 L605.88,372.91 L608.20,372.91 L608.20,378.36 L610.53,378.36 L610.53,380.18 L612.86,380.18 L612.86,381.09 L615.19,381.09 L615.19,381.09 L617.51,381.09 L617.51,381.09 L619.84,381.09 L619.84,381.09 L622.17,381.09 L622.17,381.09 L624.50,381.09 L624.50,381.09 L626.82,381.09 L626.82,381.09 L629.15,381.09 L629.15,381.09 L631.48,381.09 L631.48,381.09 L633.81,381.09 L633.81,381.09 L636.13,381.09 L636.13,381.09 L638.46,381.09 L638.46,381.09 L640.79,381.09 L640.79,381.09 L643.12,381.09 L643.12,381.09 L645.44,381.09 L645.44,381.09 L647.77,381.09 L647.77,381.09 L650.10,381.09 L650.10,381.09 L652.43,381.09 L652.43,381.09 L654.75,381.09 L654.75,381.09 L657.08,381.09 L657.08,381.09 L659.41,381.09 L659.41,381.09 L661.74,381.09 L661.74,381.09 L664.06,381.09 L664.06,381.09 L666.39,381.09 L666.39,381.09 L668.72,381.09 L668.72,381.09 L671.05,381.09 L671.05,381.09 L673.37,381.09 L673.37,381.09 L675.70,381.09 L675.70,381.09 L678.03,381.09 L678.03,381.09 L680.36,381.09 L680.36,381.09 L682.68,381.09 L682.68,381.09 L685.01,381.09 L685.01,381.09 L687.34,381.09 L687.34,381.09 L689.67,381.09 L689.67,381.09 L691.99,381.09 L691.99,381.09 L694.32,381.09 L694.32,381.09 L696.65,381.09 L696.65,381.09 L698.98,381.09 L698.98,381.09 L701.30,381.09 L701.30,381.09 L703.63,381.09 L703.63,381.09 L705.96,381.09 L705.96,381.09 L708.29,381.09" stroke="#c62a2c" stroke-width="1.45"/>
</g>
<rect x="483.93" y="199.45" width="217.00" height="188.45" fill="none" stroke="#000" stroke-width="0.75"/>
<path d="M538.18,387.90 V382.40 M592.43,387.90 V382.40 M646.68,387.90 V382.40 M483.93,381.09 H489.43 M483.93,335.68 H489.43 M483.93,290.27 H489.43 M483.93,244.86 H489.43 M483.93,199.45 H489.43" stroke="#000" stroke-width="0.75" fill="none"/>
<g font-family="Liberation Sans, sans-serif" font-size="12.3" fill="#000" stroke="#000" stroke-width="0.18"><text x="494.53" y="217.65">C</text>
<text x="503.33" y="219.55" font-size="9">4</text>
<text x="508.63" y="217.65">H</text>
<text x="597.53" y="217.95" textLength="93" lengthAdjust="spacingAndGlyphs">9562.7213 MHz</text>
<text x="494.43" y="236.55" font-style="italic">N</text>
<path d="M507.13,231.25 h7.30 M507.13,234.25 h7.30" stroke="#000" stroke-width="1.1" fill="none"/>
<text x="518.53" y="236.55">1</text>
<path d="M528.53,232.95 H536.03" stroke="#000" stroke-width="1.1" fill="none"/><path d="M537.23,232.95 L534.23,230.45 L535.23,232.95 L534.23,235.45 Z" fill="#000"/>
<text x="540.33" y="236.55">0</text>
<path d="M497.68,241.75 L496.38,249.45 Q495.93,251.75 493.53,251.85" stroke="#000" stroke-width="1.3" fill="none"/>
<path d="M501.43,244.55 h7.60 M501.43,247.55 h7.60" stroke="#000" stroke-width="1.1" fill="none"/>
<text x="512.73" y="249.85">1/2</text>
<path d="M534.03,246.25 H541.73" stroke="#000" stroke-width="1.1" fill="none"/><path d="M542.93,246.25 L539.93,243.75 L540.93,246.25 L539.93,248.75 Z" fill="#000"/>
<text x="546.53" y="249.85">1/2</text>
<text x="494.43" y="263.45" font-style="italic">F</text>
<path d="M505.03,258.15 h7.30 M505.03,261.15 h7.30" stroke="#000" stroke-width="1.1" fill="none"/>
<text x="516.33" y="263.45">1</text>
<path d="M526.43,259.85 H534.03" stroke="#000" stroke-width="1.1" fill="none"/><path d="M535.23,259.85 L532.23,257.35 L533.23,259.85 L532.23,262.35 Z" fill="#000"/>
<text x="538.23" y="263.45">1</text></g>
<g font-family="Liberation Sans, sans-serif" font-size="12.3" fill="#000" stroke="#000" stroke-width="0.18"><text x="35.2" y="385.39" text-anchor="end" textLength="18.6" lengthAdjust="spacingAndGlyphs">0.0</text>
<text x="35.2" y="339.98" text-anchor="end" textLength="18.6" lengthAdjust="spacingAndGlyphs">0.2</text>
<text x="35.2" y="294.57" text-anchor="end" textLength="18.6" lengthAdjust="spacingAndGlyphs">0.4</text>
<text x="35.2" y="249.16" text-anchor="end" textLength="18.6" lengthAdjust="spacingAndGlyphs">0.6</text>
<text x="35.2" y="203.75" text-anchor="end" textLength="18.6" lengthAdjust="spacingAndGlyphs">0.8</text>
<text x="92.75" y="400.8" text-anchor="middle">1</text>
<text x="147.00" y="400.8" text-anchor="middle" textLength="7.9" lengthAdjust="spacingAndGlyphs">0</text>
<text x="201.25" y="400.8" text-anchor="middle">-1</text>
<text x="147" y="415.4" text-anchor="middle" textLength="137" lengthAdjust="spacingAndGlyphs">Relative Velocity (km/s)</text>
<g transform="translate(9.0,314.5) rotate(-90)"><text x="0.3" y="0" font-size="12.9">T</text><text x="7.4" y="2.1" font-size="8.9">A</text><path d="M17.1,-8.7 V-3.3 M14.8,-7.35 L19.4,-4.65 M14.8,-4.65 L19.4,-7.35" stroke="#000" stroke-width="1.05" fill="none"/><text x="24.2" y="0" font-size="12.3" textLength="15.8" lengthAdjust="spacingAndGlyphs">(K)</text></g></g></svg></body></html>
